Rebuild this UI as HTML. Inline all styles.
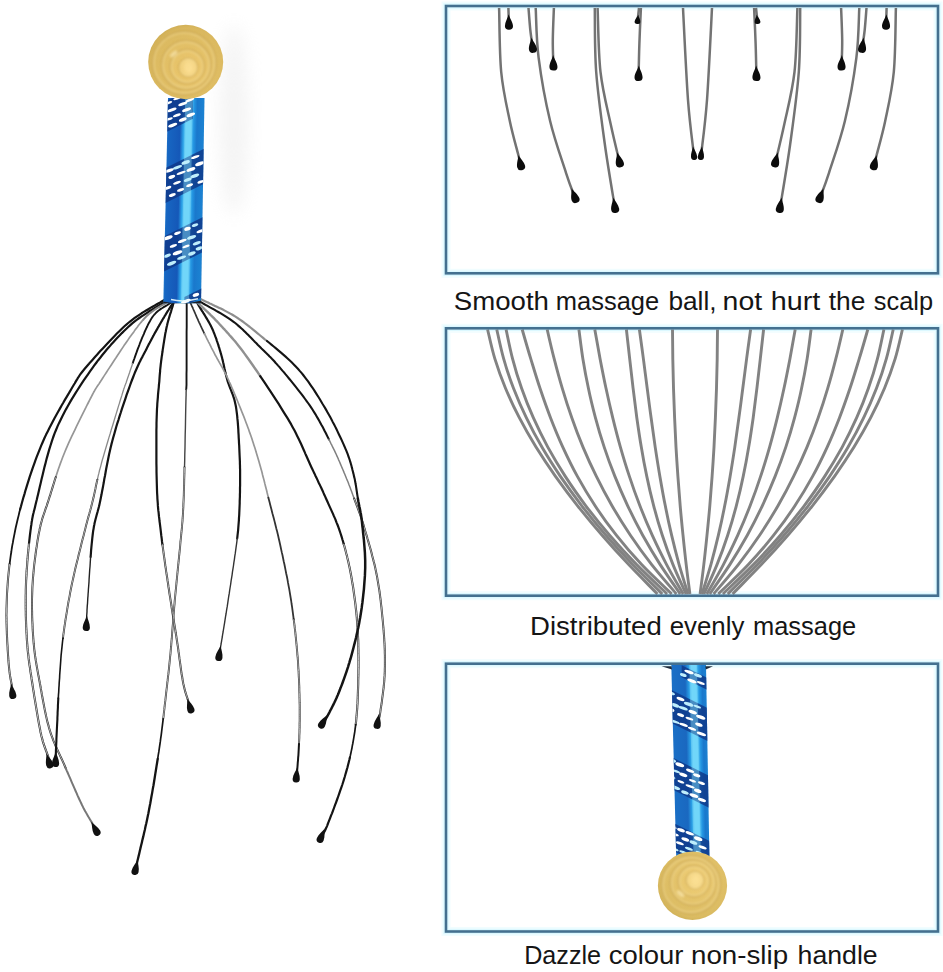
<!DOCTYPE html>
<html><head><meta charset="utf-8"><title>Head massager</title>
<style>
html,body{margin:0;padding:0;background:#fff;}
body{width:943px;height:972px;overflow:hidden;font-family:"Liberation Sans",sans-serif;}
svg{display:block;}
text{font-family:"Liberation Sans",sans-serif;fill:#151515;}
</style></head><body>
<svg width="943" height="972" viewBox="0 0 943 972">
<defs>
<linearGradient id="h1g" x1="0" x2="1" y1="0" y2="0">
<stop offset="0" stop-color="#2b8cd6"/><stop offset="0.07" stop-color="#1766c2"/><stop offset="0.36" stop-color="#1558b8"/>
<stop offset="0.44" stop-color="#2a9fe6"/><stop offset="0.51" stop-color="#62d0f8"/><stop offset="0.62" stop-color="#62d0f8"/><stop offset="0.70" stop-color="#2496e2"/>
<stop offset="0.78" stop-color="#1a78cc"/><stop offset="0.94" stop-color="#1b82d2"/><stop offset="1" stop-color="#1668b8"/>
</linearGradient>
<linearGradient id="h3g" x1="0" x2="1" y1="0" y2="0">
<stop offset="0" stop-color="#2b8cd6"/><stop offset="0.07" stop-color="#1a6fc6"/><stop offset="0.40" stop-color="#1a68c0"/>
<stop offset="0.50" stop-color="#2a9fe6"/><stop offset="0.57" stop-color="#62d0f8"/><stop offset="0.68" stop-color="#62d0f8"/><stop offset="0.76" stop-color="#2496e2"/>
<stop offset="0.84" stop-color="#1a78cc"/><stop offset="0.95" stop-color="#1b82d2"/><stop offset="1" stop-color="#1668b8"/>
</linearGradient>
<radialGradient id="ballg" cx="0.55" cy="0.56" r="0.62" fx="0.56" fy="0.6">
<stop offset="0" stop-color="#f6d27c"/><stop offset="0.25" stop-color="#e9c56c"/><stop offset="0.6" stop-color="#dfbd64"/>
<stop offset="0.85" stop-color="#d9b75e"/><stop offset="1" stop-color="#c9a850"/>
</radialGradient>
<radialGradient id="ballgf" cx="0.55" cy="0.44" r="0.62" fx="0.56" fy="0.4">
<stop offset="0" stop-color="#f6d680"/><stop offset="0.25" stop-color="#ebca72"/><stop offset="0.6" stop-color="#e0c068"/>
<stop offset="0.85" stop-color="#dabb62"/><stop offset="1" stop-color="#caab54"/>
</radialGradient>
<filter id="b1" x="-20%" y="-20%" width="140%" height="140%"><feGaussianBlur stdDeviation="0.8"/></filter>
<filter id="b2" x="-50%" y="-50%" width="200%" height="200%"><feGaussianBlur stdDeviation="2"/></filter>
<filter id="b8" x="-50%" y="-50%" width="200%" height="200%"><feGaussianBlur stdDeviation="9"/></filter>
</defs>
<rect width="943" height="972" fill="#ffffff"/>
<!-- soft shadow -->
<ellipse cx="234" cy="120" rx="14" ry="95" fill="#e6e6e6" opacity="0.45" filter="url(#b8)"/>
<!-- frames halo -->
<rect x="446" y="6.0" width="492" height="267.3" fill="none" stroke="#f1fdff" stroke-width="9"/>
<rect x="446" y="6.0" width="492" height="267.3" fill="none" stroke="#dcf8ff" stroke-width="5.4"/>
<rect x="446" y="328.3" width="492" height="267.4" fill="none" stroke="#f1fdff" stroke-width="9"/>
<rect x="446" y="328.3" width="492" height="267.4" fill="none" stroke="#dcf8ff" stroke-width="5.4"/>
<rect x="446" y="663.7" width="492" height="267.8" fill="none" stroke="#f1fdff" stroke-width="9"/>
<rect x="446" y="663.7" width="492" height="267.8" fill="none" stroke="#dcf8ff" stroke-width="5.4"/>

<!-- left wires -->
<g fill="none" stroke-linecap="round" stroke-linejoin="round">
<path d="M166.7,298.3 L166.7,298.3 L166.7,298.3 L166.8,298.3 L166.9,298.2 L167.1,298.1 L167.2,298.0 L167.3,297.9 L167.4,297.9 L167.5,297.8 L167.5,297.8 L167.5,297.9 L167.3,298.0 L167.1,298.1 L166.7,298.3 L166.2,298.7 L165.6,299.1 L164.8,299.6 L163.8,300.2 L162.6,300.9 L161.3,301.7 L159.8,302.6 L158.2,303.5 L156.4,304.5 L154.5,305.6 L152.5,306.7 L150.4,307.9 L148.3,309.2 L146.1,310.5 L143.8,311.9 L141.5,313.3 L139.3,314.8 L137.0,316.3 L134.7,317.9 L132.5,319.6 L130.3,321.3 L128.2,323.0 L126.1,324.8 L123.9,326.8 L121.6,329.0 L119.3,331.2 L116.9,333.5 L114.6,335.9 L112.2,338.4 L109.8,340.9 L107.4,343.4 L105.1,345.9 L102.8,348.4 L100.5,350.8 L98.3,353.2 L96.3,355.6 L94.3,357.8 L92.4,359.9 L90.6,361.9 L89.0,363.8 L87.5,365.5 L86.2,367.0 L85.1,368.3 L84.1,369.5 L83.1,370.7 L82.3,371.7 L81.5,372.7 L80.8,373.6 L80.1,374.6 L79.5,375.5 L78.8,376.6 L78.1,377.6 L77.4,378.8 L76.6,380.1 L75.7,381.6 L74.8,383.2 L73.7,385.0 L72.5,387.0 L71.2,389.2 L69.8,391.6 L68.3,394.2 L66.7,396.8 L65.0,399.6 L63.4,402.5 L61.6,405.5 L59.9,408.6 L58.1,411.8 L56.3,415.0 L54.5,418.2 L52.8,421.5 L51.1,424.8 L49.4,428.1 L47.7,431.4 L46.1,434.6 L44.6,437.8 L43.2,441.0 L41.8,444.2 L40.5,447.4 L39.2,450.6 L37.9,453.9 L36.6,457.1 L35.4,460.4 L34.2,463.8 L33.0,467.1 L31.9,470.4 L30.7,473.8 L29.6,477.1 L28.6,480.4 L27.5,483.8 L26.5,487.1 L25.5,490.3 L24.6,493.6 L23.6,496.8 L22.7,500.0 L21.8,503.2 L21.0,506.3 L20.1,509.4" stroke="#141414" stroke-width="2.2"/>
<path d="M20.1,509.4 L19.3,512.5 L18.6,515.6 L17.8,518.7 L17.1,521.7 L16.4,524.8 L15.7,527.8 L15.1,530.8 L14.5,533.9 L13.9,536.9 L13.3,539.9 L12.8,542.9 L12.2,545.9 L11.7,549.0 L11.3,552.0 L10.8,555.0 L10.4,558.0 L10.0,561.0 L9.6,564.1" stroke="#141414" stroke-width="1.8"/>
<path d="M9.6,564.1 L9.2,567.1 L8.9,570.1 L8.6,573.1 L8.3,576.1 L8.0,579.1 L7.8,582.1 L7.6,585.1 L7.4,588.0 L7.2,591.0 L7.0,594.0 L6.9,597.0 L6.8,600.0 L6.7,603.0 L6.6,606.0 L6.5,609.0 L6.5,612.0 L6.4,615.2 L6.5,618.3 L6.5,621.6 L6.6,624.8 L6.7,628.1 L6.8,631.3 L6.9,634.6 L7.1,637.8 L7.2,641.0 L7.4,644.1 L7.6,647.1 L7.7,650.1 L7.9,652.9 L8.1,655.7 L8.3,658.3 L8.4,660.7 L8.6,663.0 L8.8,665.1 L9.0,667.2 L9.2,669.1 L9.4,670.9 L9.6,672.6 L9.8,674.2 L10.0,675.7 L10.3,677.2 L10.5,678.5 L10.7,679.8 L11.0,681.0 L11.2,682.2 L11.4,683.3 L11.6,684.3 L11.8,685.3 L11.9,686.2 L12.1,687.1 L12.2,688.0 L12.3,688.8 L12.4,689.5 L12.4,690.1 L12.5,690.6 L12.5,691.1 L12.6,691.5 L12.6,691.8 L12.6,692.1 L12.6,692.3 L12.6,692.5 L12.6,692.7 L12.5,692.8 L12.5,692.9 L12.5,693.0 L12.5,693.1 L12.5,693.2 L12.5,693.4 L12.5,693.5" stroke="#262626" stroke-width="2.0"/>
<path d="M9.6,564.1 L9.2,567.1 L8.9,570.1 L8.6,573.1 L8.3,576.1 L8.0,579.1 L7.8,582.1 L7.6,585.1 L7.4,588.0 L7.2,591.0 L7.0,594.0 L6.9,597.0 L6.8,600.0 L6.7,603.0 L6.6,606.0 L6.5,609.0 L6.5,612.0 L6.4,615.2 L6.5,618.3 L6.5,621.6 L6.6,624.8 L6.7,628.1 L6.8,631.3 L6.9,634.6 L7.1,637.8 L7.2,641.0 L7.4,644.1 L7.6,647.1 L7.7,650.1 L7.9,652.9 L8.1,655.7 L8.3,658.3 L8.4,660.7 L8.6,663.0 L8.8,665.1 L9.0,667.2 L9.2,669.1 L9.4,670.9 L9.6,672.6 L9.8,674.2 L10.0,675.7 L10.3,677.2 L10.5,678.5 L10.7,679.8 L11.0,681.0 L11.2,682.2 L11.4,683.3 L11.6,684.3 L11.8,685.3 L11.9,686.2 L12.1,687.1 L12.2,688.0 L12.3,688.8 L12.4,689.5 L12.4,690.1 L12.5,690.6 L12.5,691.1 L12.6,691.5 L12.6,691.8 L12.6,692.1 L12.6,692.3 L12.6,692.5 L12.6,692.7 L12.5,692.8 L12.5,692.9 L12.5,693.0 L12.5,693.1 L12.5,693.2 L12.5,693.4 L12.5,693.5" stroke="#fff" stroke-opacity="0.9" stroke-width="0.7" stroke-linecap="butt"/>
<path d="M167.3,300.0 L167.2,300.0 L167.3,300.0 L167.4,300.0 L167.5,299.9 L167.6,299.8 L167.8,299.7 L167.9,299.6 L168.0,299.5 L168.1,299.4 L168.1,299.4 L168.1,299.5 L167.9,299.6 L167.7,299.7 L167.3,300.0 L166.8,300.3 L166.2,300.8 L165.4,301.3 L164.4,302.0 L163.2,302.8 L161.9,303.7 L160.3,304.6 L158.6,305.6 L156.8,306.7 L154.9,307.9 L152.8,309.2 L150.7,310.5 L148.5,311.8 L146.3,313.3 L144.0,314.8 L141.6,316.4 L139.3,318.0 L137.0,319.7 L134.7,321.4 L132.5,323.2 L130.3,325.1 L128.2,327.0 L126.1,329.0 L124.0,331.0 L121.9,333.1 L119.8,335.3 L117.6,337.5 L115.5,339.8 L113.3,342.2 L111.1,344.6 L109.0,347.1 L106.8,349.6 L104.6,352.2 L102.5,354.8 L100.4,357.5 L98.2,360.2 L96.1,363.0 L94.1,365.7 L92.0,368.6 L90.0,371.4 L88.0,374.3 L86.0,377.2 L83.9,380.2 L81.9,383.2 L79.8,386.3 L77.8,389.5 L75.8,392.6 L73.8,395.8 L71.8,399.1 L69.9,402.4 L68.0,405.7 L66.1,409.1 L64.3,412.5 L62.5,415.9 L60.8,419.4 L59.1,422.9 L57.5,426.4 L56.0,430.0 L54.5,433.7 L53.1,437.5 L51.8,441.4 L50.5,445.5 L49.2,449.6 L48.0,453.9 L46.8,458.1 L45.7,462.4 L44.6,466.6 L43.6,470.8 L42.6,474.9 L41.6,479.0 L40.7,482.9 L39.8,486.7 L39.0,490.3 L38.2,493.8 L37.4,497.0 L36.7,500.0 L36.0,502.7 L35.4,505.2 L34.9,507.4 L34.4,509.4 L33.9,511.3 L33.5,513.0 L33.1,514.5 L32.8,516.1 L32.5,517.5 L32.2,518.9 L32.0,520.4 L31.7,521.8 L31.5,523.3 L31.3,525.0 L31.0,526.7 L30.8,528.6 L30.5,530.7 L30.2,533.0 L29.9,535.5 L29.6,538.1 L29.3,540.8 L29.0,543.6" stroke="#141414" stroke-width="2.2"/>
<path d="M29.0,543.6 L28.7,546.5 L28.4,549.4 L28.1,552.5 L27.8,555.6 L27.6,558.7 L27.3,561.8 L27.1,565.0 L26.9,568.2 L26.6,571.4 L26.5,574.6 L26.3,577.8 L26.1,580.9 L26.0,584.0 L25.9,587.0 L25.8,590.0 L25.8,593.1 L25.7,596.1 L25.7,599.2 L25.7,602.3 L25.7,605.4 L25.7,608.5 L25.8,611.6 L25.8,614.7 L25.9,617.8 L26.0,620.8 L26.1,623.8 L26.2,626.8 L26.4,629.7 L26.5,632.6 L26.7,635.5 L26.8,638.3 L27.0,641.0 L27.2,643.7 L27.4,646.2 L27.6,648.7 L27.8,651.2 L28.1,653.5 L28.4,655.9 L28.6,658.2 L28.9,660.5 L29.2,662.8 L29.5,665.0 L29.9,667.3 L30.2,669.6 L30.5,671.9 L30.9,674.2 L31.3,676.6 L31.6,679.0 L32.0,681.5 L32.4,684.0 L32.8,686.6 L33.2,689.4 L33.7,692.2 L34.1,695.2 L34.6,698.1 L35.1,701.1 L35.6,704.2 L36.1,707.2 L36.6,710.2 L37.1,713.2 L37.6,716.2 L38.1,719.1 L38.6,721.9 L39.1,724.6 L39.6,727.1 L40.1,729.6 L40.5,731.9 L41.0,734.0 L41.4,736.0 L41.9,737.8 L42.4,739.6 L42.8,741.3 L43.3,742.8 L43.8,744.3 L44.2,745.7 L44.7,747.0 L45.1,748.3 L45.6,749.4 L46.0,750.6 L46.4,751.6 L46.8,752.6 L47.1,753.6 L47.5,754.5 L47.8,755.3 L48.1,756.2 L48.3,757.0 L48.5,757.8 L48.7,758.4 L48.8,759.0 L48.9,759.6 L49.0,760.0 L49.1,760.4 L49.2,760.8 L49.2,761.1 L49.2,761.3 L49.2,761.6 L49.2,761.8 L49.2,761.9 L49.2,762.1 L49.2,762.2 L49.2,762.4 L49.2,762.5 L49.2,762.6 L49.2,762.8" stroke="#262626" stroke-width="2.1"/>
<path d="M29.0,543.6 L28.7,546.5 L28.4,549.4 L28.1,552.5 L27.8,555.6 L27.6,558.7 L27.3,561.8 L27.1,565.0 L26.9,568.2 L26.6,571.4 L26.5,574.6 L26.3,577.8 L26.1,580.9 L26.0,584.0 L25.9,587.0 L25.8,590.0 L25.8,593.1 L25.7,596.1 L25.7,599.2 L25.7,602.3 L25.7,605.4 L25.7,608.5 L25.8,611.6 L25.8,614.7 L25.9,617.8 L26.0,620.8 L26.1,623.8 L26.2,626.8 L26.4,629.7 L26.5,632.6 L26.7,635.5 L26.8,638.3 L27.0,641.0 L27.2,643.7 L27.4,646.2 L27.6,648.7 L27.8,651.2 L28.1,653.5 L28.4,655.9 L28.6,658.2 L28.9,660.5 L29.2,662.8 L29.5,665.0 L29.9,667.3 L30.2,669.6 L30.5,671.9 L30.9,674.2 L31.3,676.6 L31.6,679.0 L32.0,681.5 L32.4,684.0 L32.8,686.6 L33.2,689.4 L33.7,692.2 L34.1,695.2 L34.6,698.1 L35.1,701.1 L35.6,704.2 L36.1,707.2 L36.6,710.2 L37.1,713.2 L37.6,716.2 L38.1,719.1 L38.6,721.9 L39.1,724.6 L39.6,727.1 L40.1,729.6 L40.5,731.9 L41.0,734.0 L41.4,736.0 L41.9,737.8 L42.4,739.6 L42.8,741.3 L43.3,742.8 L43.8,744.3 L44.2,745.7 L44.7,747.0 L45.1,748.3 L45.6,749.4 L46.0,750.6 L46.4,751.6 L46.8,752.6 L47.1,753.6 L47.5,754.5 L47.8,755.3 L48.1,756.2 L48.3,757.0 L48.5,757.8 L48.7,758.4 L48.8,759.0 L48.9,759.6 L49.0,760.0 L49.1,760.4 L49.2,760.8 L49.2,761.1 L49.2,761.3 L49.2,761.6 L49.2,761.8 L49.2,761.9 L49.2,762.1 L49.2,762.2 L49.2,762.4 L49.2,762.5 L49.2,762.6 L49.2,762.8" stroke="#fff" stroke-opacity="0.9" stroke-width="0.8" stroke-linecap="butt"/>
<path d="M169.3,300.8 L169.2,300.8 L169.2,300.8 L169.2,300.8 L169.2,300.8 L169.2,300.8 L169.2,300.9 L169.1,300.9 L169.1,300.9 L169.0,300.9 L169.0,301.0 L168.8,301.1 L168.7,301.2 L168.5,301.3 L168.2,301.5 L167.9,301.7 L167.4,302.0 L167.0,302.3 L166.4,302.7 L165.7,303.1 L165.0,303.6 L164.2,304.1 L163.2,304.6 L162.3,305.2 L161.2,305.7 L160.1,306.4 L159.0,307.0 L157.9,307.7 L156.7,308.4 L155.5,309.2 L154.3,310.0 L153.1,310.8 L151.9,311.7 L150.7,312.6 L149.5,313.5 L148.4,314.5 L147.3,315.5 L146.2,316.5 L145.2,317.6 L144.2,318.7 L143.2,319.8" stroke="#888" stroke-width="2.0"/>
<path d="M143.2,319.8 L142.2,320.9 L141.2,322.1 L140.2,323.3 L139.2,324.5 L138.2,325.8 L137.2,327.2 L136.2,328.5 L135.1,329.9 L134.1,331.4 L133.0,332.9 L131.8,334.5 L130.7,336.1 L129.4,337.8 L128.2,339.6 L126.9,341.5 L125.5,343.5 L124.0,345.6 L122.5,347.9 L120.9,350.3 L119.3,352.7 L117.6,355.2 L116.0,357.7 L114.3,360.2 L112.7,362.7 L111.1,365.2 L109.5,367.6 L108.0,369.9 L106.5,372.2 L105.1,374.4 L103.8,376.4 L102.6,378.3 L101.5,380.0 L100.5,381.5 L99.7,382.8 L99.0,383.9 L98.3,384.8 L97.8,385.6 L97.3,386.3 L96.8,387.0 L96.4,387.6 L96.1,388.1 L95.7,388.8 L95.3,389.4 L94.8,390.2 L94.4,391.0 L93.8,392.0 L93.2,393.2 L92.5,394.5 L91.7,396.1 L90.7,398.0 L89.6,400.1 L88.4,402.5 L87.1,405.0 L85.8,407.7 L84.3,410.6 L82.8,413.6 L81.3,416.7 L79.7,419.9 L78.1,423.1 L76.5,426.4 L74.9,429.8 L73.3,433.1 L71.7,436.4 L70.2,439.7 L68.7,442.9 L67.3,446.1 L66.0,449.1 L64.8,452.0 L63.7,454.8 L62.5,457.7 L61.5,460.5 L60.4,463.4 L59.4,466.2 L58.4,469.0 L57.5,471.8 L56.6,474.6 L55.7,477.3" stroke="#969696" stroke-width="1.7"/>
<path d="M55.7,477.3 L54.8,480.0 L54.0,482.7 L53.2,485.3 L52.4,487.9 L51.6,490.5 L50.8,492.9 L50.1,495.4 L49.3,497.7 L48.6,500.0 L47.9,502.2 L47.2,504.2 L46.6,506.1 L45.9,507.9 L45.3,509.7 L44.8,511.3 L44.2,513.0 L43.7,514.5 L43.1,516.1 L42.6,517.7 L42.1,519.3 L41.7,521.0 L41.2,522.7 L40.7,524.5 L40.3,526.5 L39.8,528.5 L39.4,530.7 L38.9,533.0 L38.4,535.5 L38.0,538.1 L37.5,540.8 L37.1,543.6 L36.7,546.5 L36.2,549.4 L35.8,552.5 L35.4,555.6 L35.0,558.7 L34.6,561.8 L34.2,565.0 L33.9,568.2 L33.6,571.4 L33.3,574.6 L33.0,577.8 L32.8,580.9 L32.6,584.0 L32.4,587.0 L32.3,590.0 L32.2,593.1 L32.1,596.1 L32.0,599.2 L32.0,602.3 L32.0,605.4 L32.0,608.5 L32.1,611.6 L32.1,614.7 L32.2,617.8 L32.3,620.8 L32.5,623.8 L32.6,626.8 L32.7,629.7 L32.9,632.6 L33.1,635.5 L33.3,638.3 L33.5,641.0 L33.7,643.7 L34.0,646.2 L34.2,648.8 L34.5,651.2 L34.8,653.7 L35.1,656.0 L35.5,658.4 L35.8,660.7 L36.2,663.0 L36.6,665.3 L37.0,667.6 L37.4,669.9 L37.8,672.1 L38.2,674.5 L38.7,676.8 L39.1,679.2 L39.6,681.6 L40.0,684.0 L40.5,686.5 L40.9,689.0 L41.4,691.6 L41.8,694.2 L42.3,696.8 L42.8,699.5 L43.3,702.1 L43.8,704.8 L44.3,707.4 L44.8,710.1 L45.4,712.7 L45.9,715.3 L46.5,717.9 L47.1,720.4 L47.7,722.9 L48.4,725.3 L49.0,727.7 L49.7,730.0 L50.4,732.2 L51.1,734.4 L51.9,736.5 L52.7,738.6 L53.4,740.6 L54.3,742.6 L55.1,744.6 L55.9,746.5 L56.8,748.4 L57.6,750.3 L58.5,752.2 L59.4,754.1 L60.3,756.1 L61.2,758.0 L62.1,759.9 L63.0,761.9 L63.9,763.9 L64.8,766.0 L65.7,768.1" stroke="#262626" stroke-width="2.0"/>
<path d="M55.7,477.3 L54.8,480.0 L54.0,482.7 L53.2,485.3 L52.4,487.9 L51.6,490.5 L50.8,492.9 L50.1,495.4 L49.3,497.7 L48.6,500.0 L47.9,502.2 L47.2,504.2 L46.6,506.1 L45.9,507.9 L45.3,509.7 L44.8,511.3 L44.2,513.0 L43.7,514.5 L43.1,516.1 L42.6,517.7 L42.1,519.3 L41.7,521.0 L41.2,522.7 L40.7,524.5 L40.3,526.5 L39.8,528.5 L39.4,530.7 L38.9,533.0 L38.4,535.5 L38.0,538.1 L37.5,540.8 L37.1,543.6 L36.7,546.5 L36.2,549.4 L35.8,552.5 L35.4,555.6 L35.0,558.7 L34.6,561.8 L34.2,565.0 L33.9,568.2 L33.6,571.4 L33.3,574.6 L33.0,577.8 L32.8,580.9 L32.6,584.0 L32.4,587.0 L32.3,590.0 L32.2,593.1 L32.1,596.1 L32.0,599.2 L32.0,602.3 L32.0,605.4 L32.0,608.5 L32.1,611.6 L32.1,614.7 L32.2,617.8 L32.3,620.8 L32.5,623.8 L32.6,626.8 L32.7,629.7 L32.9,632.6 L33.1,635.5 L33.3,638.3 L33.5,641.0 L33.7,643.7 L34.0,646.2 L34.2,648.8 L34.5,651.2 L34.8,653.7 L35.1,656.0 L35.5,658.4 L35.8,660.7 L36.2,663.0 L36.6,665.3 L37.0,667.6 L37.4,669.9 L37.8,672.1 L38.2,674.5 L38.7,676.8 L39.1,679.2 L39.6,681.6 L40.0,684.0 L40.5,686.5 L40.9,689.0 L41.4,691.6 L41.8,694.2 L42.3,696.8 L42.8,699.5 L43.3,702.1 L43.8,704.8 L44.3,707.4 L44.8,710.1 L45.4,712.7 L45.9,715.3 L46.5,717.9 L47.1,720.4 L47.7,722.9 L48.4,725.3 L49.0,727.7 L49.7,730.0 L50.4,732.2 L51.1,734.4 L51.9,736.5 L52.7,738.6 L53.4,740.6 L54.3,742.6 L55.1,744.6 L55.9,746.5 L56.8,748.4 L57.6,750.3 L58.5,752.2 L59.4,754.1 L60.3,756.1 L61.2,758.0 L62.1,759.9 L63.0,761.9 L63.9,763.9 L64.8,766.0 L65.7,768.1" stroke="#fff" stroke-opacity="0.9" stroke-width="0.7" stroke-linecap="butt"/>
<path d="M65.7,768.1 L66.6,770.3 L67.6,772.5 L68.6,774.8 L69.6,777.1 L70.6,779.4 L71.6,781.8 L72.6,784.1 L73.6,786.4 L74.6,788.7 L75.6,791.0 L76.6,793.2 L77.5,795.4 L78.5,797.5 L79.4,799.5 L80.3,801.4 L81.2,803.3 L82.0,805.0 L82.8,806.6 L83.6,808.2 L84.4,809.7 L85.2,811.2 L86.0,812.6 L86.8,813.9 L87.5,815.2 L88.2,816.5 L89.0,817.7 L89.6,818.8 L90.3,819.9 L90.9,820.9 L91.5,821.9 L92.1,822.8 L92.6,823.7 L93.1,824.5 L93.6,825.3 L94.0,826.0 L94.4,826.7 L94.7,827.2 L94.9,827.8 L95.2,828.2 L95.3,828.6 L95.5,828.9 L95.6,829.2 L95.7,829.4 L95.8,829.6 L95.8,829.7 L95.8,829.8 L95.9,829.9 L95.9,830.0 L95.9,830.1 L95.9,830.2 L95.9,830.3 L96.0,830.4 L96.0,830.5" stroke="#777" stroke-width="2.0"/>
<path d="M171.7,301.9 L171.6,301.9 L171.6,302.0 L171.5,302.0 L171.5,302.0 L171.5,302.1 L171.4,302.1 L171.4,302.1 L171.3,302.2 L171.3,302.2 L171.2,302.3 L171.0,302.4 L170.9,302.5 L170.7,302.7 L170.4,302.9 L170.1,303.1 L169.8,303.3 L169.4,303.6 L168.9,304.0 L168.4,304.4 L167.7,304.8 L167.0,305.2 L166.3,305.7 L165.5,306.1 L164.6,306.6 L163.7,307.1 L162.8,307.7 L161.9,308.3 L160.9,308.9 L159.9,309.6 L159.0,310.3 L158.0,311.0 L157.1,311.8 L156.1,312.7 L155.3,313.6 L154.4,314.5 L153.6,315.5 L152.8,316.5 L152.1,317.6 L151.3,318.8 L150.6,319.9 L149.9,321.2 L149.2,322.4 L148.5,323.7 L147.8,325.1 L147.2,326.5 L146.5,327.9 L145.8,329.4 L145.1,330.9 L144.4,332.5 L143.8,334.1 L143.1,335.7 L142.3,337.4 L141.6,339.1 L140.9,340.9 L140.1,342.8 L139.4,344.8 L138.6,346.9 L137.7,349.1 L136.9,351.4 L136.1,353.7 L135.2,356.1 L134.4,358.5 L133.5,360.9 L132.7,363.3" stroke="#141414" stroke-width="1.9"/>
<path d="M132.7,363.3 L131.9,365.7 L131.1,368.0 L130.3,370.3 L129.6,372.5 L128.9,374.5 L128.2,376.5 L127.6,378.3 L127.0,380.0 L126.5,381.5 L126.1,382.7 L125.7,383.7 L125.4,384.5 L125.1,385.2 L124.9,385.8 L124.7,386.4 L124.5,386.9 L124.3,387.4 L124.2,387.9 L123.9,388.6 L123.7,389.3 L123.4,390.2 L123.1,391.2 L122.7,392.5 L122.2,394.1 L121.7,395.9 L121.0,398.0 L120.2,400.5 L119.4,403.3 L118.4,406.4 L117.4,409.8 L116.3,413.4 L115.1,417.2 L113.9,421.2 L112.7,425.2 L111.4,429.3 L110.2,433.5 L108.9,437.6 L107.7,441.7 L106.5,445.7 L105.4,449.5 L104.3,453.2 L103.3,456.7 L102.3,460.0 L101.5,463.0 L100.8,465.8 L100.1,468.4 L99.4,470.8 L98.9,473.2 L98.3,475.4 L97.8,477.6 L97.4,479.6" stroke="#8a8a8a" stroke-width="1.3"/>
<path d="M97.4,479.6 L96.9,481.6 L96.5,483.5 L96.1,485.4 L95.7,487.2 L95.4,489.0 L95.0,490.8 L94.6,492.6 L94.2,494.4 L93.8,496.2 L93.4,498.1 L92.9,500.0 L92.4,501.9 L92.0,503.7 L91.5,505.5 L91.1,507.2 L90.6,508.9 L90.2,510.5 L89.7,512.2 L89.3,513.8 L88.8,515.4 L88.4,517.1 L87.9,518.8 L87.4,520.6 L86.9,522.4 L86.4,524.3 L85.9,526.3 L85.4,528.4 L84.8,530.7 L84.2,533.0 L83.6,535.5 L82.9,538.1 L82.2,540.8 L81.5,543.6 L80.8,546.5 L80.1,549.4 L79.3,552.5 L78.5,555.6 L77.8,558.7 L77.0,561.8 L76.2,565.0 L75.4,568.2 L74.7,571.4 L74.0,574.6 L73.3,577.8 L72.6,580.9 L71.9,584.0 L71.3,587.0 L70.7,590.0 L70.1,593.0 L69.6,596.1 L69.0,599.1 L68.4,602.1 L67.9,605.2 L67.4,608.2 L66.9,611.3 L66.4,614.3 L65.9,617.3 L65.4,620.4 L65.0,623.4 L64.5,626.4 L64.1,629.3 L63.7,632.3 L63.3,635.2 L63.0,638.1" stroke="#262626" stroke-width="1.9"/>
<path d="M97.4,479.6 L96.9,481.6 L96.5,483.5 L96.1,485.4 L95.7,487.2 L95.4,489.0 L95.0,490.8 L94.6,492.6 L94.2,494.4 L93.8,496.2 L93.4,498.1 L92.9,500.0 L92.4,501.9 L92.0,503.7 L91.5,505.5 L91.1,507.2 L90.6,508.9 L90.2,510.5 L89.7,512.2 L89.3,513.8 L88.8,515.4 L88.4,517.1 L87.9,518.8 L87.4,520.6 L86.9,522.4 L86.4,524.3 L85.9,526.3 L85.4,528.4 L84.8,530.7 L84.2,533.0 L83.6,535.5 L82.9,538.1 L82.2,540.8 L81.5,543.6 L80.8,546.5 L80.1,549.4 L79.3,552.5 L78.5,555.6 L77.8,558.7 L77.0,561.8 L76.2,565.0 L75.4,568.2 L74.7,571.4 L74.0,574.6 L73.3,577.8 L72.6,580.9 L71.9,584.0 L71.3,587.0 L70.7,590.0 L70.1,593.0 L69.6,596.1 L69.0,599.1 L68.4,602.1 L67.9,605.2 L67.4,608.2 L66.9,611.3 L66.4,614.3 L65.9,617.3 L65.4,620.4 L65.0,623.4 L64.5,626.4 L64.1,629.3 L63.7,632.3 L63.3,635.2 L63.0,638.1" stroke="#fff" stroke-opacity="0.9" stroke-width="0.7" stroke-linecap="butt"/>
<path d="M63.0,638.1 L62.6,641.0 L62.3,643.9 L62.0,646.8 L61.7,649.6 L61.4,652.5 L61.1,655.4 L60.9,658.3 L60.7,661.2 L60.5,664.0 L60.3,666.8 L60.1,669.6 L59.9,672.3 L59.7,675.0 L59.6,677.7 L59.4,680.3 L59.2,682.8 L59.1,685.3 L58.9,687.7 L58.8,690.0 L58.7,692.2 L58.5,694.4 L58.4,696.4 L58.3,698.4" stroke="#141414" stroke-width="1.6"/>
<path d="M58.3,698.4 L58.2,700.3 L58.1,702.2 L58.0,704.0 L57.9,705.8 L57.9,707.5 L57.8,709.2 L57.7,710.9 L57.6,712.6 L57.6,714.3 L57.5,716.0 L57.4,717.7 L57.4,719.4 L57.3,721.2 L57.2,723.0 L57.1,724.9 L57.0,726.8 L56.9,728.8 L56.8,730.9 L56.7,732.9 L56.6,735.0 L56.5,737.1 L56.4,739.2 L56.4,741.2 L56.3,743.2 L56.2,745.2 L56.1,747.0 L56.0,748.8 L55.9,750.5 L55.9,752.1 L55.8,753.5 L55.7,754.8 L55.7,756.0 L55.7,757.0 L55.6,757.8 L55.6,758.6 L55.6,759.2 L55.6,759.7 L55.6,760.1 L55.6,760.4 L55.6,760.6 L55.6,760.8 L55.6,760.9 L55.6,761.0 L55.6,761.1 L55.6,761.1 L55.6,761.2 L55.6,761.2 L55.6,761.3 L55.6,761.4 L55.6,761.5" stroke="#141414" stroke-width="2.1"/>
<path d="M173.2,302.3 L173.2,302.4 L173.1,302.4 L173.1,302.5 L173.1,302.5 L173.1,302.6 L173.1,302.6 L173.0,302.6 L173.0,302.7 L172.9,302.8 L172.9,302.9 L172.8,303.0 L172.7,303.2 L172.6,303.4 L172.4,303.7 L172.2,304.0 L172.0,304.4 L171.7,304.8 L171.4,305.3 L171.0,305.9 L170.7,306.5 L170.2,307.2 L169.8,307.9 L169.3,308.7 L168.8,309.5 L168.3,310.3 L167.7,311.2 L167.1,312.1 L166.5,313.1 L165.9,314.1 L165.3,315.1 L164.6,316.2 L164.0,317.3 L163.3,318.4 L162.6,319.5 L162.0,320.6 L161.3,321.8 L160.6,323.0 L159.9,324.2 L159.2,325.4 L158.5,326.7 L157.7,328.0 L157.0,329.4 L156.2,330.7 L155.4,332.1 L154.6,333.5 L153.8,335.0 L153.0,336.4 L152.2,337.9 L151.4,339.4 L150.6,341.0 L149.8,342.5 L148.9,344.1 L148.1,345.7 L147.3,347.3 L146.5,348.9 L145.7,350.5 L144.9,352.0 L144.1,353.5 L143.3,355.1 L142.5,356.6 L141.6,358.2 L140.8,359.8 L140.0,361.4 L139.2,363.1 L138.3,364.9 L137.5,366.7 L136.6,368.7 L135.7,370.7 L134.8,372.8 L133.9,375.1 L133.0,377.5 L132.0,380.0 L131.0,382.7 L130.0,385.5 L128.9,388.6 L127.8,391.7 L126.6,394.9 L125.5,398.3 L124.3,401.8 L123.1,405.3 L121.9,408.9 L120.8,412.5 L119.6,416.1 L118.5,419.8 L117.3,423.4 L116.2,427.0 L115.2,430.6 L114.2,434.2 L113.2,437.6 L112.3,441.0 L111.4,444.4 L110.6,447.8 L109.8,451.3 L109.0,454.7 L108.3,458.3 L107.6,461.8 L106.9,465.3 L106.2,468.8 L105.6,472.2 L105.0,475.7 L104.3,479.0 L103.8,482.3 L103.2,485.6 L102.6,488.7 L102.0,491.7 L101.5,494.6 L100.9,497.4 L100.4,500.0 L99.9,502.4 L99.4,504.7 L98.9,506.8 L98.4,508.7 L97.9,510.5 L97.5,512.1 L97.0,513.8 L96.6,515.3 L96.2,516.8 L95.8,518.3 L95.4,519.8 L95.0,521.4 L94.6,523.0 L94.3,524.8 L93.9,526.6 L93.6,528.6 L93.2,530.7 L92.9,533.0 L92.6,535.5 L92.3,538.2 L92.0,541.1 L91.7,544.0 L91.4,547.1 L91.1,550.3 L90.9,553.5 L90.6,556.8" stroke="#141414" stroke-width="2.2"/>
<path d="M90.6,556.8 L90.4,560.1 L90.2,563.4 L90.0,566.7 L89.7,569.9 L89.5,573.1 L89.3,576.1 L89.1,579.1 L89.0,581.9 L88.8,584.5 L88.6,587.0 L88.4,589.3 L88.3,591.6 L88.1,593.8 L88.0,595.9 L87.8,597.9 L87.7,599.9 L87.6,601.8 L87.5,603.6 L87.3,605.4 L87.2,607.1 L87.1,608.7 L87.0,610.3 L87.0,611.7 L86.9,613.1 L86.8,614.5 L86.7,615.7 L86.7,616.9 L86.6,618.0 L86.5,619.0 L86.5,619.9 L86.5,620.7 L86.4,621.4 L86.4,622.0 L86.4,622.5 L86.4,623.0 L86.4,623.4 L86.4,623.7 L86.4,624.0 L86.4,624.2 L86.4,624.4 L86.4,624.6 L86.4,624.8 L86.4,625.0 L86.4,625.1 L86.4,625.3 L86.4,625.5" stroke="#222" stroke-width="1.4"/>
<path d="M173.7,302.5 L173.6,302.6 L173.6,302.7 L173.6,302.7 L173.6,302.7 L173.6,302.7 L173.6,302.7 L173.6,302.7 L173.6,302.8 L173.6,302.8 L173.5,302.9 L173.5,303.1 L173.4,303.3 L173.4,303.5 L173.3,303.8 L173.2,304.2 L173.0,304.7 L172.9,305.2 L172.7,305.9 L172.5,306.7 L172.2,307.5 L171.9,308.4 L171.6,309.4 L171.3,310.5 L171.0,311.6 L170.6,312.8 L170.2,314.0 L169.8,315.3 L169.4,316.6 L169.0,318.0 L168.6,319.4 L168.2,320.8 L167.8,322.2 L167.4,323.7 L167.1,325.2 L166.7,326.7 L166.4,328.2 L166.1,329.7 L165.8,331.4 L165.4,333.1 L165.1,334.9 L164.8,336.7 L164.5,338.5 L164.2,340.4 L163.9,342.3 L163.6,344.2 L163.3,346.2 L163.0,348.1 L162.7,349.9 L162.5,351.8 L162.2,353.5 L162.0,355.3 L161.7,356.9 L161.5,358.5 L161.3,360.0 L161.1,361.4 L161.0,362.6 L160.8,363.8 L160.7,364.9 L160.6,365.9 L160.5,366.8 L160.4,367.7 L160.3,368.6 L160.2,369.5 L160.1,370.4 L160.1,371.3 L160.0,372.3 L159.9,373.3 L159.8,374.4 L159.7,375.6 L159.6,377.0 L159.5,378.4 L159.4,380.0 L159.3,381.7 L159.1,383.4 L158.9,385.2 L158.8,387.0 L158.6,388.8 L158.4,390.7 L158.2,392.7 L158.0,394.8 L157.9,396.9 L157.7,399.1 L157.5,401.3 L157.3,403.7 L157.2,406.2 L157.0,408.7 L156.9,411.4 L156.8,414.1 L156.7,417.0 L156.6,420.0 L156.5,423.2 L156.5,426.6 L156.4,430.2 L156.4,434.1 L156.4,438.0 L156.4,442.1 L156.4,446.3 L156.4,450.5 L156.4,454.8 L156.4,459.1 L156.4,463.4 L156.5,467.6 L156.5,471.7 L156.6,475.7 L156.7,479.5 L156.8,483.2 L156.9,486.7 L157.0,490.0 L157.1,493.0 L157.3,495.9 L157.4,498.6 L157.6,501.2 L157.8,503.6 L157.9,505.9 L158.1,508.2 L158.3,510.4 L158.6,512.5 L158.8,514.6 L159.0,516.7 L159.3,518.9 L159.5,521.0 L159.8,523.2 L160.1,525.5 L160.4,527.9 L160.7,530.4 L161.0,533.0 L161.3,535.7 L161.7,538.5 L162.0,541.4 L162.4,544.3" stroke="#141414" stroke-width="2.2"/>
<path d="M162.4,544.3 L162.8,547.2 L163.2,550.2 L163.6,553.2 L164.0,556.2 L164.5,559.3 L164.9,562.4 L165.3,565.5 L165.8,568.6 L166.2,571.7 L166.7,574.8 L167.2,577.9 L167.6,580.9 L168.1,584.0 L168.5,587.0 L169.0,590.0 L169.4,593.1 L169.9,596.2 L170.4,599.2 L170.9,602.4 L171.4,605.5 L171.8,608.6 L172.3,611.7 L172.8,614.8 L173.3,617.9 L173.8,620.9 L174.3,624.0 L174.8,626.9 L175.3,629.9 L175.7,632.8 L176.2,635.6 L176.6,638.3 L177.0,641.0 L177.4,643.6 L177.8,646.2 L178.2,648.8 L178.5,651.4 L178.9,653.9 L179.2,656.4 L179.5,658.9 L179.9,661.3 L180.2,663.6 L180.5,665.9 L180.8,668.2 L181.1,670.4 L181.4,672.5 L181.7,674.6 L182.1,676.5 L182.4,678.4 L182.7,680.3 L183.0,682.0 L183.3,683.7 L183.7,685.2 L184.0,686.7 L184.3,688.1 L184.7,689.5 L185.0,690.7 L185.3,691.9 L185.7,693.1 L186.0,694.2 L186.3,695.2 L186.7,696.2 L187.0,697.1 L187.3,698.0 L187.5,698.9 L187.8,699.7 L188.1,700.5 L188.3,701.3 L188.5,702.0 L188.7,702.7 L188.9,703.3 L189.0,703.9 L189.2,704.4 L189.3,704.8 L189.4,705.3 L189.6,705.6 L189.7,706.0 L189.7,706.2 L189.8,706.5 L189.9,706.7 L190.0,707.0 L190.0,707.2 L190.1,707.3 L190.1,707.5 L190.2,707.7 L190.2,707.8 L190.3,708.0" stroke="#262626" stroke-width="2.0"/>
<path d="M162.4,544.3 L162.8,547.2 L163.2,550.2 L163.6,553.2 L164.0,556.2 L164.5,559.3 L164.9,562.4 L165.3,565.5 L165.8,568.6 L166.2,571.7 L166.7,574.8 L167.2,577.9 L167.6,580.9 L168.1,584.0 L168.5,587.0 L169.0,590.0 L169.4,593.1 L169.9,596.2 L170.4,599.2 L170.9,602.4 L171.4,605.5 L171.8,608.6 L172.3,611.7 L172.8,614.8 L173.3,617.9 L173.8,620.9 L174.3,624.0 L174.8,626.9 L175.3,629.9 L175.7,632.8 L176.2,635.6 L176.6,638.3 L177.0,641.0 L177.4,643.6 L177.8,646.2 L178.2,648.8 L178.5,651.4 L178.9,653.9 L179.2,656.4 L179.5,658.9 L179.9,661.3 L180.2,663.6 L180.5,665.9 L180.8,668.2 L181.1,670.4 L181.4,672.5 L181.7,674.6 L182.1,676.5 L182.4,678.4 L182.7,680.3 L183.0,682.0 L183.3,683.7 L183.7,685.2 L184.0,686.7 L184.3,688.1 L184.7,689.5 L185.0,690.7 L185.3,691.9 L185.7,693.1 L186.0,694.2 L186.3,695.2 L186.7,696.2 L187.0,697.1 L187.3,698.0 L187.5,698.9 L187.8,699.7 L188.1,700.5 L188.3,701.3 L188.5,702.0 L188.7,702.7 L188.9,703.3 L189.0,703.9 L189.2,704.4 L189.3,704.8 L189.4,705.3 L189.6,705.6 L189.7,706.0 L189.7,706.2 L189.8,706.5 L189.9,706.7 L190.0,707.0 L190.0,707.2 L190.1,707.3 L190.1,707.5 L190.2,707.7 L190.2,707.8 L190.3,708.0" stroke="#fff" stroke-opacity="0.9" stroke-width="0.7" stroke-linecap="butt"/>
<path d="M186.7,302.0 L186.7,302.0 L186.7,301.8 L186.7,301.6 L186.7,301.2 L186.7,300.7 L186.7,300.3 L186.7,299.8 L186.7,299.4 L186.7,299.1 L186.7,298.9 L186.7,298.8 L186.7,298.9 L186.7,299.3 L186.7,299.9 L186.7,300.8 L186.7,302.0 L186.7,303.5 L186.7,305.5 L186.7,308.0 L186.7,311.0 L186.7,314.5 L186.7,318.4 L186.7,322.6 L186.7,327.2 L186.6,331.9 L186.6,336.8 L186.6,341.8 L186.6,346.9 L186.6,351.8 L186.6,356.7 L186.6,361.4 L186.6,365.9 L186.6,370.0 L186.5,373.8 L186.5,377.2 L186.5,380.0 L186.5,382.3 L186.5,384.0 L186.5,385.3 L186.4,386.2 L186.4,386.8 L186.4,387.1 L186.4,387.2 L186.4,387.3 L186.4,387.3 L186.4,387.3 L186.3,387.5 L186.3,387.9 L186.3,388.5 L186.2,389.4" stroke="#141414" stroke-width="1.9"/>
<path d="M186.2,389.4 L186.2,390.8 L186.1,392.6 L186.1,395.0 L186.0,398.0 L185.9,401.7 L185.8,406.0 L185.7,410.8 L185.6,416.1 L185.5,421.9 L185.4,427.9 L185.2,434.2 L185.1,440.8 L185.0,447.4 L184.8,454.0 L184.7,460.7 L184.5,467.2" stroke="#444" stroke-width="1.4"/>
<path d="M184.5,467.2 L184.4,473.5 L184.2,479.6 L184.1,485.4 L183.9,490.8 L183.8,495.6 L183.6,500.0 L183.4,503.9 L183.3,507.4 L183.1,510.6 L183.0,513.5 L182.8,516.1 L182.6,518.6 L182.5,520.9 L182.3,523.0 L182.1,525.0 L182.0,526.9 L181.8,528.8 L181.6,530.7 L181.4,532.7 L181.2,534.7 L181.0,536.8 L180.8,539.0 L180.5,541.4 L180.3,544.0 L180.1,546.8 L179.8,549.6 L179.5,552.4 L179.2,555.3 L178.9,558.3 L178.6,561.3 L178.3,564.3 L178.0,567.3 L177.7,570.4 L177.4,573.5 L177.1,576.5 L176.8,579.6 L176.5,582.7 L176.2,585.8 L175.9,588.9 L175.6,591.9 L175.3,595.0 L175.0,598.0 L174.7,601.0 L174.5,604.1 L174.2,607.2 L174.0,610.3 L173.7,613.4 L173.5,616.6 L173.2,619.7 L173.0,622.9 L172.7,626.0 L172.5,629.1 L172.2,632.2 L172.0,635.2 L171.8,638.2 L171.5,641.1 L171.3,643.9 L171.1,646.7 L170.8,649.4 L170.6,652.0 L170.4,654.5 L170.1,656.8 L169.9,659.1 L169.7,661.2 L169.5,663.2 L169.3,665.2 L169.1,667.2 L168.9,669.1 L168.7,670.9 L168.5,672.8 L168.3,674.7 L168.0,676.7 L167.8,678.7 L167.6,680.7 L167.3,682.9 L167.1,685.1 L166.8,687.5 L166.5,690.0 L166.2,692.6 L165.9,695.3 L165.6,698.1 L165.3,700.9 L164.9,703.8 L164.6,706.7 L164.3,709.7 L163.9,712.7 L163.6,715.8 L163.2,718.9" stroke="#262626" stroke-width="1.9"/>
<path d="M184.5,467.2 L184.4,473.5 L184.2,479.6 L184.1,485.4 L183.9,490.8 L183.8,495.6 L183.6,500.0 L183.4,503.9 L183.3,507.4 L183.1,510.6 L183.0,513.5 L182.8,516.1 L182.6,518.6 L182.5,520.9 L182.3,523.0 L182.1,525.0 L182.0,526.9 L181.8,528.8 L181.6,530.7 L181.4,532.7 L181.2,534.7 L181.0,536.8 L180.8,539.0 L180.5,541.4 L180.3,544.0 L180.1,546.8 L179.8,549.6 L179.5,552.4 L179.2,555.3 L178.9,558.3 L178.6,561.3 L178.3,564.3 L178.0,567.3 L177.7,570.4 L177.4,573.5 L177.1,576.5 L176.8,579.6 L176.5,582.7 L176.2,585.8 L175.9,588.9 L175.6,591.9 L175.3,595.0 L175.0,598.0 L174.7,601.0 L174.5,604.1 L174.2,607.2 L174.0,610.3 L173.7,613.4 L173.5,616.6 L173.2,619.7 L173.0,622.9 L172.7,626.0 L172.5,629.1 L172.2,632.2 L172.0,635.2 L171.8,638.2 L171.5,641.1 L171.3,643.9 L171.1,646.7 L170.8,649.4 L170.6,652.0 L170.4,654.5 L170.1,656.8 L169.9,659.1 L169.7,661.2 L169.5,663.2 L169.3,665.2 L169.1,667.2 L168.9,669.1 L168.7,670.9 L168.5,672.8 L168.3,674.7 L168.0,676.7 L167.8,678.7 L167.6,680.7 L167.3,682.9 L167.1,685.1 L166.8,687.5 L166.5,690.0 L166.2,692.6 L165.9,695.3 L165.6,698.1 L165.3,700.9 L164.9,703.8 L164.6,706.7 L164.3,709.7 L163.9,712.7 L163.6,715.8 L163.2,718.9" stroke="#fff" stroke-opacity="0.9" stroke-width="0.7" stroke-linecap="butt"/>
<path d="M163.2,718.9 L162.8,722.1 L162.4,725.3 L162.0,728.5 L161.6,731.8 L161.2,735.1 L160.7,738.4 L160.3,741.7 L159.8,745.0 L159.3,748.4 L158.8,751.9 L158.2,755.4 L157.7,759.0" stroke="#141414" stroke-width="1.7"/>
<path d="M157.7,759.0 L157.1,762.7 L156.5,766.4 L155.9,770.2 L155.3,773.9 L154.7,777.7 L154.1,781.5 L153.5,785.2 L152.8,788.9 L152.2,792.6 L151.5,796.2 L150.9,799.8 L150.3,803.3 L149.6,806.7 L149.0,810.0 L148.4,813.3 L147.7,816.6 L147.0,819.9 L146.3,823.3 L145.5,826.6 L144.8,829.9 L144.0,833.2 L143.3,836.4 L142.5,839.6 L141.8,842.7 L141.1,845.6 L140.4,848.4 L139.8,851.1 L139.2,853.7 L138.6,856.1 L138.1,858.2 L137.6,860.2 L137.2,862.0 L136.9,863.5 L136.6,864.8 L136.3,865.9 L136.1,866.8 L135.9,867.5 L135.8,868.1 L135.7,868.5 L135.7,868.8 L135.6,869.0 L135.6,869.1 L135.6,869.2 L135.6,869.2 L135.6,869.2 L135.6,869.2 L135.6,869.2 L135.6,869.2 L135.5,869.3 L135.5,869.5" stroke="#141414" stroke-width="2.3"/>
<path d="M197.5,303.5 L197.6,303.5 L197.6,303.6 L197.6,303.6 L197.6,303.6 L197.6,303.6 L197.6,303.6 L197.6,303.6 L197.6,303.6 L197.6,303.6 L197.7,303.7 L197.7,303.8 L197.8,304.0 L198.0,304.2 L198.1,304.5 L198.4,304.9 L198.6,305.3 L198.9,305.9 L199.3,306.5 L199.7,307.2 L200.3,308.1 L200.8,309.0 L201.5,310.0 L202.1,311.1 L202.9,312.2 L203.6,313.4 L204.4,314.7 L205.2,316.0 L206.0,317.3 L206.8,318.6 L207.6,320.0 L208.4,321.4 L209.2,322.8 L210.0,324.2 L210.7,325.5 L211.4,326.9 L212.0,328.2 L212.6,329.5 L213.2,330.9 L213.7,332.2 L214.3,333.6 L214.8,335.0 L215.3,336.4 L215.9,337.8 L216.4,339.2 L216.8,340.6 L217.3,342.0 L217.8,343.5 L218.3,344.9 L218.7,346.4 L219.2,347.8 L219.6,349.3 L220.0,350.7 L220.5,352.2 L220.9,353.6 L221.3,355.0 L221.7,356.5 L222.1,357.9 L222.4,359.4 L222.8,360.8 L223.1,362.3 L223.5,363.8 L223.8,365.2 L224.1,366.7 L224.4,368.2 L224.8,369.6 L225.1,371.1 L225.4,372.6 L225.8,374.1 L226.1,375.6 L226.5,377.0 L226.9,378.5 L227.3,380.0 L227.7,381.5 L228.2,382.9 L228.7,384.2 L229.2,385.6 L229.7,386.9 L230.2,388.3 L230.8,389.6 L231.3,390.9 L231.8,392.3 L232.4,393.7 L232.9,395.1 L233.4,396.6 L233.9,398.1 L234.4,399.7 L234.8,401.4 L235.2,403.2 L235.6,405.0 L236.0,407.0 L236.3,409.1 L236.6,411.3 L236.9,413.7 L237.2,416.1 L237.4,418.7 L237.7,421.3 L237.9,423.9 L238.1,426.6 L238.3,429.4 L238.4,432.1 L238.6,434.9 L238.7,437.6 L238.9,440.3 L239.0,443.0 L239.2,445.6 L239.3,448.2 L239.4,450.6 L239.5,453.0 L239.6,455.3 L239.7,457.5 L239.8,459.6 L239.9,461.7 L239.9,463.8 L240.0,465.8 L240.0,467.8 L240.1,469.7 L240.1,471.7 L240.1,473.6 L240.1,475.6 L240.1,477.6 L240.1,479.5 L240.1,481.5 L240.1,483.6 L240.1,485.7 L240.0,487.8 L240.0,490.0 L240.0,492.2 L239.9,494.5 L239.9,496.7 L239.8,498.9 L239.7,501.2 L239.7,503.5 L239.6,505.8 L239.5,508.1 L239.4,510.4 L239.3,512.8 L239.2,515.2 L239.0,517.6 L238.9,520.1 L238.7,522.6 L238.5,525.1 L238.3,527.7 L238.1,530.3 L237.8,533.0 L237.5,535.7 L237.2,538.5" stroke="#141414" stroke-width="2.2"/>
<path d="M237.2,538.5 L236.9,541.4 L236.5,544.3 L236.1,547.2 L235.7,550.2 L235.3,553.2 L234.8,556.2 L234.4,559.3 L233.9,562.4 L233.5,565.5 L233.0,568.6 L232.5,571.7 L232.1,574.8 L231.6,577.9 L231.1,580.9 L230.7,584.0 L230.2,587.0 L229.7,590.1 L229.3,593.2 L228.7,596.5 L228.2,599.9 L227.7,603.3 L227.2,606.7 L226.6,610.1 L226.1,613.5 L225.5,616.8 L225.0,620.1 L224.5,623.3 L224.0,626.3 L223.5,629.3 L223.1,632.0 L222.6,634.6 L222.3,637.0 L221.9,639.1 L221.6,641.0 L221.3,642.6 L221.1,644.0 L220.9,645.1 L220.7,646.1 L220.6,646.9 L220.5,647.5 L220.4,647.9 L220.3,648.3 L220.3,648.5 L220.2,648.7 L220.2,648.8 L220.1,648.9 L220.1,649.0 L220.1,649.1 L220.0,649.2 L220.0,649.4 L220.0,649.7 L219.9,650.0 L219.8,650.4 L219.8,650.8 L219.7,651.2 L219.7,651.6 L219.6,651.9 L219.6,652.3 L219.5,652.6 L219.5,653.0 L219.4,653.3 L219.4,653.6 L219.4,653.9 L219.3,654.2 L219.3,654.5 L219.3,654.7 L219.3,654.9 L219.2,655.1 L219.2,655.3 L219.2,655.5" stroke="#333" stroke-width="1.4"/>
<path d="M190.2,302.1 L190.2,302.2 L190.2,302.2 L190.2,302.2 L190.2,302.2 L190.2,302.2 L190.2,302.2 L190.2,302.2 L190.2,302.2 L190.3,302.3 L190.3,302.4 L190.3,302.5 L190.4,302.7 L190.5,302.9 L190.7,303.2 L190.8,303.6 L191.0,304.1 L191.3,304.6 L191.6,305.3 L191.9,306.1 L192.3,307.0 L192.8,307.9 L193.2,309.0 L193.7,310.2 L194.3,311.4 L194.8,312.7 L195.4,314.0 L196.0,315.4 L196.6,316.8 L197.2,318.2 L197.9,319.7 L198.5,321.1 L199.2,322.6 L199.9,324.0 L200.5,325.4 L201.2,326.8 L201.8,328.2 L202.4,329.5 L203.1,330.9 L203.8,332.3 L204.4,333.7" stroke="#333" stroke-width="1.7"/>
<path d="M204.4,333.7 L205.1,335.0 L205.8,336.4 L206.5,337.9 L207.2,339.3 L207.9,340.7 L208.6,342.1 L209.4,343.5 L210.1,345.0 L210.8,346.4 L211.5,347.8 L212.3,349.3 L213.0,350.7 L213.8,352.2 L214.5,353.6 L215.2,355.0 L216.0,356.4 L216.7,357.7 L217.4,359.0 L218.2,360.3 L218.9,361.6 L219.6,362.9 L220.4,364.2 L221.1,365.6 L221.9,366.9 L222.7,368.3 L223.5,369.8 L224.2,371.3 L225.1,372.9 L225.9,374.5 L226.7,376.2 L227.6,378.1 L228.5,380.0 L229.4,382.1 L230.4,384.2 L231.4,386.5 L232.4,388.9 L233.5,391.4 L234.6,394.0 L235.7,396.6 L236.8,399.3 L237.9,402.0 L239.0,404.7 L240.1,407.4 L241.2,410.1 L242.2,412.7 L243.3,415.3 L244.3,417.9 L245.2,420.3 L246.1,422.7 L247.0,425.0 L247.8,427.2 L248.6,429.3 L249.3,431.4 L250.0,433.4 L250.7,435.3 L251.4,437.2 L252.0,439.1 L252.6,441.0 L253.2,442.8 L253.8,444.7 L254.4,446.5 L255.0,448.3 L255.6,450.2 L256.1,452.1 L256.7,454.0 L257.3,455.9 L257.9,457.9 L258.5,460.0 L259.1,462.1 L259.7,464.2 L260.3,466.3 L260.9,468.5 L261.5,470.6 L262.1,472.8 L262.6,475.0 L263.2,477.2 L263.8,479.4 L264.4,481.7 L264.9,483.9 L265.5,486.2 L266.1,488.5 L266.7,490.7 L267.2,493.0 L267.8,495.4 L268.4,497.7" stroke="#969696" stroke-width="1.7"/>
<path d="M268.4,497.7 L269.0,500.0 L269.6,502.3 L270.2,504.7 L270.8,507.0 L271.4,509.3 L272.0,511.7 L272.6,514.0 L273.3,516.4 L273.9,518.7 L274.5,521.1 L275.1,523.5 L275.7,526.0 L276.3,528.4 L277.0,530.9 L277.6,533.5 L278.2,536.0 L278.8,538.7 L279.4,541.3 L280.0,544.0 L280.6,546.8 L281.2,549.6 L281.8,552.4 L282.5,555.3 L283.1,558.3 L283.7,561.3 L284.4,564.3 L285.0,567.3 L285.6,570.4 L286.2,573.5 L286.9,576.5 L287.5,579.6 L288.0,582.7 L288.6,585.8 L289.2,588.9 L289.7,591.9 L290.2,595.0 L290.7,598.0 L291.2,601.0 L291.6,604.0 L292.1,607.1 L292.5,610.1 L292.9,613.2 L293.3,616.2 L293.7,619.3" stroke="#333" stroke-width="1.8"/>
<path d="M293.7,619.3 L294.1,622.3 L294.5,625.4 L294.8,628.4 L295.2,631.4 L295.5,634.4 L295.8,637.4 L296.1,640.4 L296.4,643.3 L296.7,646.3 L296.9,649.1 L297.2,652.0 L297.4,654.8 L297.7,657.6 L297.9,660.4 L298.1,663.2 L298.2,666.0 L298.4,668.7 L298.6,671.5 L298.7,674.2 L298.8,676.9 L299.0,679.5 L299.1,682.2 L299.2,684.8 L299.3,687.4 L299.3,690.0 L299.4,692.5 L299.5,695.1 L299.5,697.5 L299.6,700.0 L299.6,702.4 L299.7,704.9 L299.7,707.2 L299.7,709.6 L299.7,712.0 L299.7,714.3 L299.7,716.6 L299.7,718.9 L299.7,721.1 L299.6,723.3 L299.6,725.5 L299.6,727.7 L299.5,729.8 L299.5,731.9 L299.4,734.0 L299.3,736.0 L299.3,738.0 L299.2,740.0 L299.1,741.9 L299.0,743.9" stroke="#262626" stroke-width="1.9"/>
<path d="M293.7,619.3 L294.1,622.3 L294.5,625.4 L294.8,628.4 L295.2,631.4 L295.5,634.4 L295.8,637.4 L296.1,640.4 L296.4,643.3 L296.7,646.3 L296.9,649.1 L297.2,652.0 L297.4,654.8 L297.7,657.6 L297.9,660.4 L298.1,663.2 L298.2,666.0 L298.4,668.7 L298.6,671.5 L298.7,674.2 L298.8,676.9 L299.0,679.5 L299.1,682.2 L299.2,684.8 L299.3,687.4 L299.3,690.0 L299.4,692.5 L299.5,695.1 L299.5,697.5 L299.6,700.0 L299.6,702.4 L299.7,704.9 L299.7,707.2 L299.7,709.6 L299.7,712.0 L299.7,714.3 L299.7,716.6 L299.7,718.9 L299.7,721.1 L299.6,723.3 L299.6,725.5 L299.6,727.7 L299.5,729.8 L299.5,731.9 L299.4,734.0 L299.3,736.0 L299.3,738.0 L299.2,740.0 L299.1,741.9 L299.0,743.9" stroke="#fff" stroke-opacity="0.9" stroke-width="0.7" stroke-linecap="butt"/>
<path d="M299.0,743.9 L298.9,745.8 L298.8,747.8 L298.7,749.7 L298.6,751.6 L298.5,753.5 L298.4,755.3 L298.2,757.1 L298.1,758.8 L298.0,760.5 L297.8,762.1 L297.7,763.6 L297.6,765.1 L297.5,766.4 L297.4,767.7 L297.3,768.9 L297.2,770.0 L297.1,771.0 L297.1,771.8 L297.0,772.6 L296.9,773.2 L296.9,773.8 L296.8,774.3 L296.8,774.7 L296.7,775.1 L296.7,775.4 L296.6,775.6 L296.6,775.8 L296.6,776.0 L296.5,776.2 L296.5,776.4 L296.5,776.5 L296.4,776.7 L296.4,776.8 L296.4,777.0" stroke="#141414" stroke-width="2.0"/>
<path d="M198.0,302.8 L198.1,302.9 L198.1,302.9 L198.1,302.9 L198.1,302.9 L198.0,302.8 L198.0,302.8 L198.0,302.8 L198.0,302.8 L198.0,302.8 L198.0,302.8 L198.1,302.9 L198.3,303.1 L198.4,303.3 L198.7,303.5 L199.0,303.8 L199.4,304.2 L199.9,304.7 L200.5,305.3 L201.2,306.0 L202.0,306.7 L202.8,307.5 L203.7,308.4 L204.7,309.4 L205.8,310.4 L206.9,311.4 L208.1,312.5 L209.3,313.7 L210.5,314.9 L211.8,316.1 L213.1,317.4 L214.4,318.7 L215.7,320.1 L217.0,321.4 L218.3,322.8 L219.6,324.2 L220.9,325.6 L222.2,327.0 L223.4,328.4 L224.7,329.7 L225.9,331.0 L227.1,332.4 L228.4,333.8 L229.6,335.2 L230.9,336.6 L232.2,338.1 L233.6,339.7 L235.0,341.3 L236.4,343.1 L237.9,344.9 L239.5,346.9 L241.1,349.0 L242.8,351.2 L244.5,353.6 L246.4,356.2 L248.4,359.0 L250.5,362.0 L252.8,365.3 L255.2,368.7 L257.7,372.3 L260.2,376.1" stroke="#909090" stroke-width="2.4"/>
<path d="M260.2,376.1 L262.8,379.9 L265.5,383.9 L268.1,387.8 L270.8,391.9 L273.4,395.9 L276.0,399.8 L278.5,403.7 L280.9,407.6 L283.2,411.3 L285.4,414.8 L287.5,418.2 L289.4,421.4 L291.2,424.4 L292.8,427.4 L294.4,430.3 L295.8,433.1 L297.2,435.9 L298.5,438.6 L299.8,441.2 L301.0,443.8 L302.1,446.3 L303.2,448.8 L304.3,451.2 L305.3,453.6 L306.4,456.0 L307.4,458.3 L308.4,460.5 L309.4,462.8 L310.4,465.0 L311.4,467.2 L312.4,469.3 L313.4,471.4 L314.4,473.4 L315.3,475.4 L316.2,477.2 L317.1,479.1 L317.9,480.9 L318.7,482.7 L319.6,484.4 L320.4,486.1 L321.2,487.8 L322.0,489.5 L322.8,491.2 L323.5,492.9 L324.3,494.7 L325.1,496.4 L325.9,498.2 L326.7,500.0 L327.5,501.8 L328.3,503.6 L329.1,505.4 L329.9,507.1 L330.7,508.9 L331.5,510.6 L332.3,512.4 L333.1,514.1 L333.8,515.9 L334.6,517.6 L335.4,519.4 L336.1,521.3 L336.8,523.1 L337.6,525.0 L338.3,526.9 L339.0,528.9 L339.7,530.9 L340.4,533.0 L341.1,535.1 L341.8,537.3 L342.4,539.5 L343.1,541.7 L343.7,543.9" stroke="#141414" stroke-width="2.2"/>
<path d="M343.7,543.9 L344.4,546.2 L345.0,548.5 L345.6,550.8 L346.2,553.2 L346.9,555.6 L347.4,558.0 L348.0,560.5 L348.6,563.0 L349.1,565.5 L349.7,568.1 L350.2,570.7 L350.7,573.3 L351.2,576.0 L351.7,578.7 L352.1,581.5 L352.6,584.3 L353.1,587.1 L353.5,590.0 L353.9,593.0 L354.3,595.9 L354.7,598.9 L355.1,601.9 L355.5,605.0 L355.8,608.1 L356.2,611.1 L356.5,614.3 L356.8,617.4 L357.0,620.5 L357.3,623.7 L357.5,626.8 L357.7,630.0 L357.9,633.2 L358.0,636.5 L358.2,639.8 L358.3,643.2 L358.3,646.7 L358.4,650.1 L358.4,653.6 L358.5,657.1 L358.5,660.6 L358.5,664.1 L358.5,667.6 L358.4,671.0 L358.4,674.3 L358.3,677.6 L358.2,680.9 L358.2,684.0 L358.1,687.1 L358.0,690.0 L357.9,692.8 L357.8,695.6 L357.7,698.3 L357.6,700.9 L357.5,703.4 L357.3,705.9 L357.2,708.3 L357.0,710.7 L356.8,713.1 L356.6,715.4 L356.4,717.7 L356.2,720.0 L356.0,722.3 L355.7,724.6" stroke="#262626" stroke-width="2.1"/>
<path d="M343.7,543.9 L344.4,546.2 L345.0,548.5 L345.6,550.8 L346.2,553.2 L346.9,555.6 L347.4,558.0 L348.0,560.5 L348.6,563.0 L349.1,565.5 L349.7,568.1 L350.2,570.7 L350.7,573.3 L351.2,576.0 L351.7,578.7 L352.1,581.5 L352.6,584.3 L353.1,587.1 L353.5,590.0 L353.9,593.0 L354.3,595.9 L354.7,598.9 L355.1,601.9 L355.5,605.0 L355.8,608.1 L356.2,611.1 L356.5,614.3 L356.8,617.4 L357.0,620.5 L357.3,623.7 L357.5,626.8 L357.7,630.0 L357.9,633.2 L358.0,636.5 L358.2,639.8 L358.3,643.2 L358.3,646.7 L358.4,650.1 L358.4,653.6 L358.5,657.1 L358.5,660.6 L358.5,664.1 L358.5,667.6 L358.4,671.0 L358.4,674.3 L358.3,677.6 L358.2,680.9 L358.2,684.0 L358.1,687.1 L358.0,690.0 L357.9,692.8 L357.8,695.6 L357.7,698.3 L357.6,700.9 L357.5,703.4 L357.3,705.9 L357.2,708.3 L357.0,710.7 L356.8,713.1 L356.6,715.4 L356.4,717.7 L356.2,720.0 L356.0,722.3 L355.7,724.6" stroke="#fff" stroke-opacity="0.9" stroke-width="0.8" stroke-linecap="butt"/>
<path d="M355.7,724.6 L355.4,726.9 L355.1,729.2 L354.8,731.6 L354.4,734.0 L354.0,736.4 L353.6,738.8 L353.2,741.2 L352.8,743.5 L352.3,745.9 L351.9,748.3 L351.4,750.6 L350.9,753.0 L350.4,755.3 L349.8,757.7" stroke="#141414" stroke-width="1.7"/>
<path d="M349.8,757.7 L349.3,760.0 L348.7,762.4 L348.1,764.8 L347.5,767.2 L346.8,769.6 L346.1,772.1 L345.4,774.5 L344.7,777.0 L343.9,779.6 L343.1,782.2 L342.2,785.0 L341.2,787.8 L340.2,790.7 L339.2,793.6 L338.2,796.5 L337.1,799.5 L336.1,802.3 L335.0,805.2 L334.0,808.0 L333.0,810.7 L332.0,813.3 L331.0,815.7 L330.1,818.1 L329.3,820.2 L328.5,822.2 L327.8,824.0 L327.2,825.6 L326.6,827.0 L326.0,828.3 L325.5,829.5 L325.0,830.6 L324.5,831.5 L324.1,832.3 L323.7,833.0 L323.3,833.7 L323.0,834.3 L322.7,834.8 L322.4,835.2 L322.1,835.7 L321.9,836.1 L321.6,836.4 L321.4,836.8 L321.2,837.1 L321.0,837.5" stroke="#141414" stroke-width="2.2"/>
<path d="M198.8,300.9 L198.8,300.9 L198.8,300.9 L198.8,300.9 L198.7,300.8 L198.6,300.8 L198.5,300.7 L198.4,300.7 L198.3,300.6 L198.3,300.6 L198.3,300.6 L198.4,300.7 L198.6,300.8 L198.8,300.9 L199.1,301.1 L199.6,301.4 L200.2,301.7 L200.9,302.2 L201.8,302.7 L202.9,303.3 L204.1,304.0 L205.5,304.8 L207.1,305.7 L208.7,306.6 L210.5,307.6 L212.4,308.6 L214.3,309.7 L216.3,310.9 L218.3,312.0 L220.4,313.2 L222.4,314.4 L224.4,315.6 L226.4,316.9 L228.3,318.1 L230.2,319.4 L231.9,320.6 L233.6,321.8 L235.2,323.0 L236.7,324.3 L238.2,325.6 L239.7,326.9 L241.2,328.2 L242.7,329.5 L244.1,330.9 L245.5,332.3 L246.9,333.7 L248.3,335.1 L249.7,336.5 L251.0,337.8 L252.4,339.2 L253.7,340.6 L255.0,342.0 L256.4,343.3 L257.7,344.7 L259.0,346.0 L260.3,347.3 L261.5,348.5 L262.8,349.7 L263.9,350.8 L265.1,352.0 L266.2,353.1 L267.4,354.2 L268.5,355.3 L269.6,356.5 L270.8,357.6 L271.9,358.8 L273.1,360.0 L274.3,361.3 L275.5,362.7 L276.8,364.1 L278.1,365.6 L279.5,367.1 L280.9,368.8 L282.4,370.6 L284.0,372.4 L285.6,374.4 L287.3,376.4 L289.0,378.5 L290.8,380.7 L292.6,382.9 L294.4,385.2 L296.2,387.4 L298.1,389.8 L299.9,392.1 L301.7,394.4 L303.4,396.7 L305.1,399.0 L306.8,401.3 L308.4,403.5 L309.9,405.7 L311.4,407.9 L312.8,410.0 L314.1,412.2 L315.5,414.3 L316.7,416.4 L318.0,418.6 L319.2,420.7 L320.4,422.9 L321.5,425.0 L322.7,427.1 L323.8,429.2 L324.8,431.3 L325.9,433.3 L326.9,435.4 L327.9,437.4 L328.9,439.4" stroke="#141414" stroke-width="2.1"/>
<path d="M328.9,439.4 L329.9,441.4 L330.8,443.3 L331.8,445.2 L332.7,447.1 L333.6,448.9 L334.5,450.7 L335.4,452.6 L336.2,454.3 L337.0,456.1 L337.8,457.8 L338.5,459.6 L339.3,461.3 L340.0,462.9 L340.7,464.6 L341.4,466.2 L342.1,467.9 L342.8,469.5 L343.5,471.1 L344.1,472.6 L344.8,474.2 L345.4,475.7 L346.0,477.2 L346.6,478.7 L347.2,480.1 L347.8,481.5 L348.3,482.8 L348.8,484.2 L349.3,485.5 L349.8,486.8 L350.3,488.1 L350.8,489.4 L351.3,490.7 L351.8,492.0 L352.2,493.2 L352.7,494.6 L353.2,495.9 L353.7,497.2 L354.2,498.6" stroke="#808080" stroke-width="1.5"/>
<path d="M354.2,498.6 L354.7,500.0 L355.2,501.4 L355.7,502.7 L356.2,504.0 L356.7,505.3 L357.2,506.6 L357.7,507.9 L358.1,509.1 L358.6,510.4 L359.1,511.8 L359.6,513.1 L360.1,514.5 L360.6,516.0 L361.1,517.6 L361.7,519.2 L362.2,520.9 L362.8,522.7 L363.4,524.6 L364.0,526.7 L364.6,528.9 L365.3,531.2 L366.0,533.6 L366.8,536.1 L367.5,538.7 L368.3,541.4 L369.1,544.2 L369.9,547.0 L370.7,549.8 L371.5,552.8 L372.2,555.7 L373.0,558.7 L373.7,561.6 L374.5,564.6 L375.2,567.6 L375.8,570.6 L376.4,573.5 L377.0,576.4 L377.5,579.3 L378.0,582.3 L378.5,585.3 L379.0,588.3 L379.5,591.4 L379.9,594.5 L380.3,597.6 L380.7,600.7 L381.0,603.8 L381.4,606.9 L381.7,610.0 L382.0,613.0 L382.3,616.1 L382.6,619.0 L382.9,622.0 L383.1,624.9 L383.4,627.7 L383.6,630.4 L383.8,633.1 L384.0,635.7 L384.2,638.3 L384.3,640.8 L384.5,643.3 L384.6,645.8 L384.7,648.2 L384.8,650.6 L384.8,653.0 L384.9,655.3 L384.9,657.6 L384.9,660.0 L384.9,662.2 L384.9,664.5 L384.9,666.8 L384.8,669.1 L384.8,671.3 L384.7,673.6 L384.6,675.9 L384.4,678.2 L384.3,680.6 L384.1,683.0 L383.8,685.4 L383.6,687.8 L383.3,690.1 L383.0,692.5 L382.7,694.8 L382.4,697.1 L382.1,699.3 L381.9,701.4 L381.6,703.4 L381.3,705.4 L381.0,707.2 L380.7,708.9 L380.5,710.5 L380.3,712.0 L380.1,713.3 L379.9,714.5 L379.7,715.6 L379.5,716.5 L379.3,717.4 L379.1,718.2 L379.0,718.9 L378.8,719.5 L378.6,720.1 L378.5,720.5 L378.3,721.0 L378.2,721.4 L378.0,721.7 L377.9,722.1 L377.8,722.4 L377.7,722.7 L377.6,723.0 L377.5,723.3" stroke="#262626" stroke-width="2.0"/>
<path d="M354.2,498.6 L354.7,500.0 L355.2,501.4 L355.7,502.7 L356.2,504.0 L356.7,505.3 L357.2,506.6 L357.7,507.9 L358.1,509.1 L358.6,510.4 L359.1,511.8 L359.6,513.1 L360.1,514.5 L360.6,516.0 L361.1,517.6 L361.7,519.2 L362.2,520.9 L362.8,522.7 L363.4,524.6 L364.0,526.7 L364.6,528.9 L365.3,531.2 L366.0,533.6 L366.8,536.1 L367.5,538.7 L368.3,541.4 L369.1,544.2 L369.9,547.0 L370.7,549.8 L371.5,552.8 L372.2,555.7 L373.0,558.7 L373.7,561.6 L374.5,564.6 L375.2,567.6 L375.8,570.6 L376.4,573.5 L377.0,576.4 L377.5,579.3 L378.0,582.3 L378.5,585.3 L379.0,588.3 L379.5,591.4 L379.9,594.5 L380.3,597.6 L380.7,600.7 L381.0,603.8 L381.4,606.9 L381.7,610.0 L382.0,613.0 L382.3,616.1 L382.6,619.0 L382.9,622.0 L383.1,624.9 L383.4,627.7 L383.6,630.4 L383.8,633.1 L384.0,635.7 L384.2,638.3 L384.3,640.8 L384.5,643.3 L384.6,645.8 L384.7,648.2 L384.8,650.6 L384.8,653.0 L384.9,655.3 L384.9,657.6 L384.9,660.0 L384.9,662.2 L384.9,664.5 L384.9,666.8 L384.8,669.1 L384.8,671.3 L384.7,673.6 L384.6,675.9 L384.4,678.2 L384.3,680.6 L384.1,683.0 L383.8,685.4 L383.6,687.8 L383.3,690.1 L383.0,692.5 L382.7,694.8 L382.4,697.1 L382.1,699.3 L381.9,701.4 L381.6,703.4 L381.3,705.4 L381.0,707.2 L380.7,708.9 L380.5,710.5 L380.3,712.0 L380.1,713.3 L379.9,714.5 L379.7,715.6 L379.5,716.5 L379.3,717.4 L379.1,718.2 L379.0,718.9 L378.8,719.5 L378.6,720.1 L378.5,720.5 L378.3,721.0 L378.2,721.4 L378.0,721.7 L377.9,722.1 L377.8,722.4 L377.7,722.7 L377.6,723.0 L377.5,723.3" stroke="#fff" stroke-opacity="0.9" stroke-width="0.7" stroke-linecap="butt"/>
<path d="M199.9,298.6 L199.9,298.7 L199.9,298.7 L199.9,298.6 L199.8,298.6 L199.7,298.6 L199.7,298.5 L199.6,298.5 L199.5,298.5 L199.5,298.5 L199.6,298.5 L199.6,298.5 L199.8,298.6 L200.1,298.7 L200.4,298.9 L200.9,299.1 L201.4,299.4 L202.1,299.8 L203.0,300.2 L204.0,300.7 L205.2,301.3 L206.6,301.9 L208.1,302.6 L209.7,303.4 L211.4,304.1 L213.1,305.0 L215.0,305.9 L216.9,306.8 L218.8,307.7 L220.8,308.6 L222.8,309.6 L224.7,310.6 L226.6,311.6 L228.5,312.6 L230.3,313.6 L232.0,314.5 L233.6,315.5 L235.1,316.4 L236.6,317.4 L238.0,318.3 L239.3,319.2 L240.7,320.1 L242.0,321.0 L243.2,321.9 L244.5,322.9 L245.8,323.8 L247.1,324.8 L248.4,325.8 L249.7,326.9 L251.1,328.0 L252.5,329.2 L254.0,330.4 L255.6,331.7 L257.3,333.1 L259.0,334.5 L260.8,336.0 L262.8,337.6 L264.8,339.3 L267.0,341.0" stroke="#8e8e8e" stroke-width="2.2"/>
<path d="M267.0,341.0 L269.2,342.8 L271.4,344.6 L273.7,346.5 L276.0,348.4 L278.3,350.4 L280.7,352.4 L283.0,354.4 L285.3,356.4 L287.6,358.5 L289.8,360.6 L291.9,362.6 L294.0,364.7 L296.0,366.8 L297.9,368.8 L299.7,370.9 L301.5,372.9 L303.2,375.0 L304.8,377.1 L306.5,379.3 L308.1,381.4 L309.6,383.6 L311.1,385.8 L312.6,387.9 L314.1,390.1 L315.5,392.4 L316.9,394.6 L318.3,396.8 L319.7,399.0 L321.0,401.2 L322.3,403.5 L323.7,405.7 L325.0,407.9 L326.3,410.1 L327.6,412.4 L328.9,414.7 L330.2,417.1 L331.5,419.5 L332.7,421.9 L334.0,424.2 L335.2,426.6 L336.4,429.0 L337.5,431.4 L338.6,433.7 L339.7,436.0 L340.8,438.2 L341.8,440.4 L342.8,442.6 L343.7,444.7 L344.6,446.7 L345.4,448.6 L346.2,450.4 L346.9,452.2 L347.6,453.9 L348.2,455.6 L348.7,457.2 L349.3,458.7 L349.8,460.3 L350.2,461.7 L350.7,463.2 L351.1,464.6 L351.5,466.0 L351.8,467.4 L352.2,468.8 L352.5,470.1 L352.9,471.5 L353.2,472.9 L353.6,474.3 L353.9,475.7 L354.2,477.1 L354.6,478.5 L354.9,479.9 L355.1,481.3 L355.4,482.7 L355.6,484.1 L355.9,485.4 L356.1,486.8 L356.3,488.1 L356.5,489.5 L356.7,490.8 L356.9,492.1 L357.1,493.5 L357.3,494.8 L357.5,496.1 L357.7,497.4 L357.9,498.7" stroke="#141414" stroke-width="2.1"/>
<path d="M357.9,498.7 L358.1,500.0 L358.3,501.3 L358.6,502.5 L358.8,503.6 L359.0,504.7 L359.2,505.8 L359.4,506.8 L359.7,507.9 L359.9,508.9 L360.1,510.0 L360.3,511.1 L360.5,512.3 L360.8,513.5 L361.0,514.7 L361.2,516.1 L361.4,517.5 L361.6,519.0 L361.8,520.6 L362.0,522.4 L362.2,524.3 L362.4,526.3 L362.7,528.3 L362.9,530.5 L363.1,532.8 L363.4,535.1 L363.6,537.5 L363.9,539.9 L364.1,542.4 L364.3,545.0 L364.5,547.5 L364.7,550.1 L364.9,552.7 L365.0,555.3 L365.1,557.9 L365.2,560.5 L365.2,563.1 L365.2,565.6 L365.2,568.1 L365.1,570.7 L365.0,573.3 L364.9,575.9 L364.7,578.6 L364.5,581.2 L364.3,583.9 L364.1,586.6 L363.9,589.3 L363.6,592.0 L363.3,594.7 L363.0,597.3 L362.7,600.0 L362.4,602.7 L362.0,605.3 L361.7,607.9 L361.3,610.5 L360.9,613.0 L360.5,615.5 L360.1,618.0 L359.6,620.5 L359.2,623.0 L358.7,625.5 L358.2,628.0 L357.6,630.5 L357.1,632.9 L356.5,635.4 L356.0,637.8 L355.4,640.2 L354.8,642.6 L354.2,644.9 L353.6,647.3 L353.0,649.6 L352.4,651.8 L351.8,654.1 L351.2,656.3 L350.6,658.5 L349.9,660.7 L349.3,662.8 L348.6,665.0 L348.0,667.1 L347.3,669.2 L346.6,671.3 L345.9,673.4 L345.2,675.4 L344.5,677.4 L343.8,679.4 L343.1,681.3 L342.4,683.2 L341.7,685.1 L341.0,686.9 L340.3,688.6 L339.7,690.3 L339.0,692.0 L338.4,693.6 L337.7,695.2 L337.0,696.7 L336.4,698.2 L335.7,699.7 L335.0,701.2 L334.4,702.5 L333.7,703.9 L333.1,705.2 L332.4,706.5 L331.8,707.7 L331.2,708.9 L330.6,710.0 L330.0,711.1 L329.5,712.2 L329.0,713.2 L328.5,714.1 L328.0,715.0 L327.6,715.8 L327.1,716.6 L326.7,717.3 L326.3,718.0 L325.9,718.6 L325.6,719.2 L325.2,719.7 L324.9,720.2 L324.6,720.6 L324.3,721.0 L324.0,721.4 L323.8,721.7 L323.6,722.0 L323.3,722.3 L323.1,722.6 L322.9,722.8 L322.8,723.1 L322.6,723.3" stroke="#141414" stroke-width="2.5"/>
</g>
<path d="M0,-10 C0.7,-6.5 3.6,-2.2 3.6,2 A3.6,3.6 0 1 1 -3.6,2 C-3.6,-2.2 -0.7,-6.5 0,-10Z" fill="#111" transform="translate(12.5,693.5) rotate(-7.9) scale(1.00)"/>
<path d="M0,-10 C0.7,-6.5 3.6,-2.2 3.6,2 A3.6,3.6 0 1 1 -3.6,2 C-3.6,-2.2 -0.7,-6.5 0,-10Z" fill="#111" transform="translate(49.2,762.8) rotate(-16.2) scale(1.00)"/>
<path d="M0,-10 C0.7,-6.5 3.6,-2.2 3.6,2 A3.6,3.6 0 1 1 -3.6,2 C-3.6,-2.2 -0.7,-6.5 0,-10Z" fill="#111" transform="translate(96.0,830.5) rotate(-29.1) scale(1.00)"/>
<path d="M0,-10 C0.7,-6.5 3.6,-2.2 3.6,2 A3.6,3.6 0 1 1 -3.6,2 C-3.6,-2.2 -0.7,-6.5 0,-10Z" fill="#111" transform="translate(55.6,761.5) rotate(2.2) scale(1.00)"/>
<path d="M0,-10 C0.7,-6.5 3.6,-2.2 3.6,2 A3.6,3.6 0 1 1 -3.6,2 C-3.6,-2.2 -0.7,-6.5 0,-10Z" fill="#111" transform="translate(86.4,625.5) rotate(2.8) scale(1.00)"/>
<path d="M0,-10 C0.7,-6.5 3.6,-2.2 3.6,2 A3.6,3.6 0 1 1 -3.6,2 C-3.6,-2.2 -0.7,-6.5 0,-10Z" fill="#111" transform="translate(190.3,708.0) rotate(-17.2) scale(1.00)"/>
<path d="M0,-10 C0.7,-6.5 3.6,-2.2 3.6,2 A3.6,3.6 0 1 1 -3.6,2 C-3.6,-2.2 -0.7,-6.5 0,-10Z" fill="#111" transform="translate(135.5,869.5) rotate(13.2) scale(1.00)"/>
<path d="M0,-10 C0.7,-6.5 3.6,-2.2 3.6,2 A3.6,3.6 0 1 1 -3.6,2 C-3.6,-2.2 -0.7,-6.5 0,-10Z" fill="#111" transform="translate(219.2,655.5) rotate(8.9) scale(1.00)"/>
<path d="M0,-10 C0.7,-6.5 3.6,-2.2 3.6,2 A3.6,3.6 0 1 1 -3.6,2 C-3.6,-2.2 -0.7,-6.5 0,-10Z" fill="#111" transform="translate(296.4,777.0) rotate(5.1) scale(1.00)"/>
<path d="M0,-10 C0.7,-6.5 3.6,-2.2 3.6,2 A3.6,3.6 0 1 1 -3.6,2 C-3.6,-2.2 -0.7,-6.5 0,-10Z" fill="#111" transform="translate(321.0,837.5) rotate(22.8) scale(1.00)"/>
<path d="M0,-10 C0.7,-6.5 3.6,-2.2 3.6,2 A3.6,3.6 0 1 1 -3.6,2 C-3.6,-2.2 -0.7,-6.5 0,-10Z" fill="#111" transform="translate(377.5,723.3) rotate(9.9) scale(1.00)"/>
<path d="M0,-10 C0.7,-6.5 3.6,-2.2 3.6,2 A3.6,3.6 0 1 1 -3.6,2 C-3.6,-2.2 -0.7,-6.5 0,-10Z" fill="#111" transform="translate(322.6,723.3) rotate(29.6) scale(1.00)"/>
<!-- left handle -->
<clipPath id="h1c"><polygon points="168.0,98.0 204.5,98.0 201.0,303.2 163.3,303.2"/></clipPath>
<g clip-path="url(#h1c)">
<g transform="translate(0.00,0) skewX(0.000) translate(0.00,0)">
<rect x="166.0" y="96.0" width="40.5" height="209.2" fill="url(#h1g)" transform="translate(0.00,98.00) skewX(-1.145) translate(0.00,-98.00)"/>
</g>
<polygon points="162.3,103.1 192.8,87.8 192.8,118.8 162.3,134.1" fill="#0f3788" opacity="0.82"/>
<polygon points="162.3,169.7 205.5,148.1 205.5,183.1 162.3,204.7" fill="#0f3788" opacity="0.82"/>
<polygon points="162.3,237.4 205.5,215.8 205.5,250.8 162.3,272.4" fill="#0f3788" opacity="0.82"/>
<polygon points="184.4,297.0 205.5,286.5 205.5,295.5 184.4,306.0" fill="#0f3788" opacity="0.82"/>
<polygon points="185.2,98.0 192.8,98.0 188.9,303.2 181.0,303.2" fill="#86defb" opacity="0.42"/>
<ellipse cx="168.0" cy="103.1" rx="4.4" ry="1.2" fill="#ffffff" transform="rotate(-20 168.0 103.1)"/>
<ellipse cx="177.3" cy="98.3" rx="4.2" ry="1.2" fill="#ffffff" transform="rotate(-20 177.3 98.3)"/>
<ellipse cx="185.7" cy="93.8" rx="4.1" ry="1.7" fill="#ffffff" transform="rotate(-20 185.7 93.8)"/>
<ellipse cx="171.9" cy="109.9" rx="4.9" ry="1.5" fill="#ffffff" transform="rotate(-20 171.9 109.9)"/>
<ellipse cx="182.8" cy="103.9" rx="4.8" ry="1.4" fill="#ffffff" transform="rotate(-20 182.8 103.9)"/>
<ellipse cx="189.9" cy="100.0" rx="4.7" ry="1.3" fill="#ffffff" transform="rotate(-20 189.9 100.0)"/>
<ellipse cx="168.8" cy="119.1" rx="4.3" ry="1.2" fill="#ffffff" transform="rotate(-20 168.8 119.1)"/>
<ellipse cx="176.9" cy="115.3" rx="4.1" ry="1.4" fill="#ffffff" transform="rotate(-20 176.9 115.3)"/>
<ellipse cx="186.6" cy="109.8" rx="4.7" ry="1.6" fill="#ffffff" transform="rotate(-20 186.6 109.8)"/>
<ellipse cx="172.7" cy="125.2" rx="4.8" ry="1.6" fill="#ffffff" transform="rotate(-20 172.7 125.2)"/>
<ellipse cx="182.8" cy="119.6" rx="4.1" ry="1.7" fill="#ffffff" transform="rotate(-20 182.8 119.6)"/>
<ellipse cx="190.8" cy="114.9" rx="4.5" ry="1.7" fill="#ffffff" transform="rotate(-20 190.8 114.9)"/>
<ellipse cx="169.4" cy="170.5" rx="4.5" ry="1.6" fill="#ffffff" transform="rotate(-20 169.4 170.5)"/>
<ellipse cx="177.5" cy="167.3" rx="4.9" ry="1.5" fill="#bfeefc" transform="rotate(-20 177.5 167.3)"/>
<ellipse cx="185.7" cy="162.4" rx="4.4" ry="1.8" fill="#bfeefc" transform="rotate(-20 185.7 162.4)"/>
<ellipse cx="195.3" cy="157.0" rx="4.5" ry="1.2" fill="#ffffff" transform="rotate(-20 195.3 157.0)"/>
<ellipse cx="171.8" cy="176.8" rx="3.5" ry="1.7" fill="#ffffff" transform="rotate(-20 171.8 176.8)"/>
<ellipse cx="181.1" cy="172.9" rx="4.8" ry="1.2" fill="#ffffff" transform="rotate(-20 181.1 172.9)"/>
<ellipse cx="190.9" cy="169.5" rx="4.7" ry="1.7" fill="#ffffff" transform="rotate(-20 190.9 169.5)"/>
<ellipse cx="199.7" cy="163.7" rx="4.8" ry="1.8" fill="#ffffff" transform="rotate(-20 199.7 163.7)"/>
<ellipse cx="167.7" cy="187.9" rx="3.8" ry="1.5" fill="#ffffff" transform="rotate(-20 167.7 187.9)"/>
<ellipse cx="177.0" cy="182.7" rx="4.1" ry="1.4" fill="#ffffff" transform="rotate(-20 177.0 182.7)"/>
<ellipse cx="187.8" cy="179.8" rx="4.2" ry="1.6" fill="#bfeefc" transform="rotate(-20 187.8 179.8)"/>
<ellipse cx="194.8" cy="175.8" rx="4.6" ry="1.7" fill="#bfeefc" transform="rotate(-20 194.8 175.8)"/>
<ellipse cx="172.3" cy="195.0" rx="3.6" ry="1.6" fill="#ffffff" transform="rotate(-20 172.3 195.0)"/>
<ellipse cx="180.6" cy="189.9" rx="3.7" ry="1.4" fill="#ffffff" transform="rotate(-20 180.6 189.9)"/>
<ellipse cx="189.6" cy="185.2" rx="3.6" ry="1.4" fill="#ffffff" transform="rotate(-20 189.6 185.2)"/>
<ellipse cx="200.8" cy="181.8" rx="3.6" ry="1.4" fill="#ffffff" transform="rotate(-20 200.8 181.8)"/>
<ellipse cx="168.1" cy="237.8" rx="4.8" ry="1.8" fill="#ffffff" transform="rotate(-20 168.1 237.8)"/>
<ellipse cx="177.5" cy="233.1" rx="3.6" ry="1.4" fill="#ffffff" transform="rotate(-20 177.5 233.1)"/>
<ellipse cx="187.5" cy="228.8" rx="3.4" ry="1.8" fill="#ffffff" transform="rotate(-20 187.5 228.8)"/>
<ellipse cx="195.0" cy="225.1" rx="3.4" ry="1.5" fill="#bfeefc" transform="rotate(-20 195.0 225.1)"/>
<ellipse cx="173.4" cy="245.9" rx="3.8" ry="1.4" fill="#ffffff" transform="rotate(-20 173.4 245.9)"/>
<ellipse cx="182.3" cy="240.9" rx="4.6" ry="1.4" fill="#ffffff" transform="rotate(-20 182.3 240.9)"/>
<ellipse cx="191.6" cy="237.4" rx="4.8" ry="1.7" fill="#bfeefc" transform="rotate(-20 191.6 237.4)"/>
<ellipse cx="200.5" cy="231.1" rx="4.2" ry="1.4" fill="#ffffff" transform="rotate(-20 200.5 231.1)"/>
<ellipse cx="167.3" cy="255.7" rx="3.8" ry="1.6" fill="#bfeefc" transform="rotate(-20 167.3 255.7)"/>
<ellipse cx="177.5" cy="252.7" rx="5.0" ry="1.8" fill="#ffffff" transform="rotate(-20 177.5 252.7)"/>
<ellipse cx="186.0" cy="246.4" rx="3.7" ry="1.3" fill="#ffffff" transform="rotate(-20 186.0 246.4)"/>
<ellipse cx="196.8" cy="243.3" rx="4.2" ry="1.6" fill="#bfeefc" transform="rotate(-20 196.8 243.3)"/>
<ellipse cx="171.6" cy="263.3" rx="4.9" ry="1.7" fill="#bfeefc" transform="rotate(-20 171.6 263.3)"/>
<ellipse cx="181.6" cy="257.6" rx="4.7" ry="1.4" fill="#bfeefc" transform="rotate(-20 181.6 257.6)"/>
<ellipse cx="191.9" cy="253.5" rx="4.0" ry="1.8" fill="#bfeefc" transform="rotate(-20 191.9 253.5)"/>
<ellipse cx="199.1" cy="248.3" rx="3.6" ry="1.7" fill="#bfeefc" transform="rotate(-20 199.1 248.3)"/>
<ellipse cx="185.9" cy="301.2" rx="5.0" ry="1.6" fill="#ffffff" transform="rotate(-20 185.9 301.2)"/>
<ellipse cx="195.9" cy="294.9" rx="3.4" ry="1.8" fill="#ffffff" transform="rotate(-20 195.9 294.9)"/>
<path d="M171,299.6 Q184,302.6 198,298.8" stroke="#e8fbff" stroke-width="1.5" fill="none" opacity="0.9"/><path d="M163,301.5 Q183,305.8 201.5,300.6 L201.5,304 L163,304Z" fill="#1d1d22"/>
</g>
<ellipse cx="185.7" cy="62.0" rx="37.5" ry="37.2" fill="url(#ballg)"/>
<clipPath id="b1clip"><ellipse cx="185.7" cy="62.0" rx="37.5" ry="37.2"/></clipPath>
<g fill="none" filter="url(#b1)" clip-path="url(#b1clip)">
<ellipse cx="188.2" cy="67.5" rx="9.6" ry="9.6" stroke="#b8913c" stroke-opacity="0.42" stroke-width="1.5"/>
<ellipse cx="188.2" cy="67.5" rx="7.9" ry="7.9" stroke="#f6df97" stroke-opacity="0.55" stroke-width="1.6"/>
<ellipse cx="187.2" cy="66.5" rx="17.2" ry="17.1" stroke="#b8913c" stroke-opacity="0.42" stroke-width="1.5"/>
<ellipse cx="187.2" cy="66.5" rx="15.5" ry="15.4" stroke="#f6df97" stroke-opacity="0.55" stroke-width="1.6"/>
<ellipse cx="186.2" cy="65.0" rx="24.8" ry="24.6" stroke="#b8913c" stroke-opacity="0.42" stroke-width="1.5"/>
<ellipse cx="186.2" cy="65.0" rx="23.1" ry="22.9" stroke="#f6df97" stroke-opacity="0.55" stroke-width="1.6"/>
<ellipse cx="184.2" cy="63.0" rx="31.9" ry="31.7" stroke="#b8913c" stroke-opacity="0.42" stroke-width="1.5"/>
<ellipse cx="184.2" cy="63.0" rx="30.2" ry="30.0" stroke="#f6df97" stroke-opacity="0.55" stroke-width="1.6"/>
</g>
<ellipse cx="188.7" cy="67.0" rx="6.5" ry="8" fill="#ffe6a0" opacity="0.6" filter="url(#b2)"/>
<ellipse cx="173.7" cy="54.0" rx="4.5" ry="2.2" fill="#fff0c0" opacity="0.55" filter="url(#b1)" transform="rotate(-40 173.7 54.0)"/>
<!-- panel 1 -->
<g fill="none" stroke="#737373" stroke-width="2.5" stroke-linecap="butt">
<path d="M499.1,8.0 C499.5,18.7 499.4,53.2 501.2,72.0 C503.0,90.8 506.9,107.0 509.8,121.0 C512.7,135.0 516.8,148.7 518.6,156.0 C520.4,163.3 520.4,163.2 520.7,164.7"/>
<path d="M508.4,8.0 C508.5,10.7 508.8,21.5 508.9,24.2"/>
<path d="M528.5,8.0 C528.8,11.7 529.6,23.4 530.3,30.0 C531.0,36.5 532.3,44.4 532.7,47.3"/>
<path d="M535.7,8.0 C536.2,16.3 536.2,38.8 538.6,57.6 C541.0,76.4 545.5,101.8 550.1,121.0 C554.7,140.2 561.9,160.0 566.0,172.8 C570.1,185.6 573.4,193.5 574.9,197.6"/>
<path d="M553.9,8.0 C553.7,13.3 552.9,30.5 552.8,40.0 C552.7,49.5 553.3,60.8 553.4,65.0"/>
<path d="M594.8,8.0 C595.0,18.7 594.5,49.3 596.2,72.0 C597.9,94.7 601.7,121.4 604.8,144.0 C607.9,166.6 613.2,196.8 614.9,207.4"/>
<path d="M597.6,8.0 C598.1,18.7 598.3,52.7 600.5,72.0 C602.7,91.3 607.4,108.8 610.6,123.8 C613.8,138.8 618.0,155.6 619.5,161.9"/>
<path d="M639.0,8.0 C638.8,10.1 637.8,18.6 637.6,20.7"/>
<path d="M640.9,8.0 C640.6,13.9 639.8,32.0 639.4,43.2 C639.0,54.5 638.7,70.1 638.6,75.5"/>
<path d="M683.0,8.0 C683.8,23.3 686.2,75.5 688.0,100.0 C689.8,124.5 692.9,145.8 693.9,155.0"/>
<path d="M895.9,8.0 C895.5,18.7 895.6,53.2 893.8,72.0 C892.0,90.8 888.1,107.0 885.2,121.0 C882.3,135.0 878.2,148.7 876.4,156.0 C874.6,163.3 874.6,163.2 874.3,164.7"/>
<path d="M886.6,8.0 C886.5,10.7 886.2,21.5 886.1,24.2"/>
<path d="M866.5,8.0 C866.2,11.7 865.4,23.4 864.7,30.0 C864.0,36.5 862.7,44.4 862.3,47.3"/>
<path d="M859.3,8.0 C858.8,16.3 858.8,38.8 856.4,57.6 C854.0,76.4 849.5,101.8 844.9,121.0 C840.3,140.2 833.1,160.0 829.0,172.8 C824.9,185.6 821.6,193.5 820.1,197.6"/>
<path d="M841.1,8.0 C841.3,13.3 842.1,30.5 842.2,40.0 C842.3,49.5 841.7,60.8 841.6,65.0"/>
<path d="M800.2,8.0 C800.0,18.7 800.5,49.3 798.8,72.0 C797.1,94.7 793.3,121.4 790.2,144.0 C787.1,166.6 781.8,196.8 780.1,207.4"/>
<path d="M797.4,8.0 C796.9,18.7 796.7,52.7 794.5,72.0 C792.3,91.3 787.6,108.8 784.4,123.8 C781.2,138.8 777.0,155.6 775.5,161.9"/>
<path d="M756.0,8.0 C756.2,10.1 757.2,18.6 757.4,20.7"/>
<path d="M754.1,8.0 C754.4,13.9 755.2,32.0 755.6,43.2 C756.0,54.5 756.3,70.1 756.4,75.5"/>
<path d="M712.0,8.0 C711.2,23.3 708.8,75.5 707.0,100.0 C705.2,124.5 702.1,145.8 701.1,155.0"/>
</g>
<path d="M0,-10 C0.7,-6.5 3.6,-2.2 3.6,2 A3.6,3.6 0 1 1 -3.6,2 C-3.6,-2.2 -0.7,-6.5 0,-10Z" fill="#0c0c0c" transform="translate(520.7,164.7) rotate(-13.6) scale(1.12,1.00)"/>
<path d="M0,-10 C0.7,-6.5 3.6,-2.2 3.6,2 A3.6,3.6 0 1 1 -3.6,2 C-3.6,-2.2 -0.7,-6.5 0,-10Z" fill="#0c0c0c" transform="translate(508.9,24.2) rotate(-1.8) scale(1.12,1.00)"/>
<path d="M0,-10 C0.7,-6.5 3.6,-2.2 3.6,2 A3.6,3.6 0 1 1 -3.6,2 C-3.6,-2.2 -0.7,-6.5 0,-10Z" fill="#0c0c0c" transform="translate(532.7,47.3) rotate(-7.9) scale(1.12,1.00)"/>
<path d="M0,-10 C0.7,-6.5 3.6,-2.2 3.6,2 A3.6,3.6 0 1 1 -3.6,2 C-3.6,-2.2 -0.7,-6.5 0,-10Z" fill="#0c0c0c" transform="translate(574.9,197.6) rotate(-19.7) scale(1.12,1.00)"/>
<path d="M0,-10 C0.7,-6.5 3.6,-2.2 3.6,2 A3.6,3.6 0 1 1 -3.6,2 C-3.6,-2.2 -0.7,-6.5 0,-10Z" fill="#0c0c0c" transform="translate(553.4,65.0) rotate(-1.4) scale(1.12,1.00)"/>
<path d="M0,-10 C0.7,-6.5 3.6,-2.2 3.6,2 A3.6,3.6 0 1 1 -3.6,2 C-3.6,-2.2 -0.7,-6.5 0,-10Z" fill="#0c0c0c" transform="translate(614.9,207.4) rotate(-9.1) scale(1.12,1.00)"/>
<path d="M0,-10 C0.7,-6.5 3.6,-2.2 3.6,2 A3.6,3.6 0 1 1 -3.6,2 C-3.6,-2.2 -0.7,-6.5 0,-10Z" fill="#0c0c0c" transform="translate(619.5,161.9) rotate(-13.1) scale(1.12,1.00)"/>
<path d="M0,-10 C0.7,-6.5 3.6,-2.2 3.6,2 A3.6,3.6 0 1 1 -3.6,2 C-3.6,-2.2 -0.7,-6.5 0,-10Z" fill="#0c0c0c" transform="translate(637.6,20.7) rotate(6.3) scale(0.80,0.60)"/>
<path d="M0,-10 C0.7,-6.5 3.6,-2.2 3.6,2 A3.6,3.6 0 1 1 -3.6,2 C-3.6,-2.2 -0.7,-6.5 0,-10Z" fill="#0c0c0c" transform="translate(638.6,75.5) rotate(1.4) scale(1.12,1.00)"/>
<path d="M0,-10 C0.7,-6.5 3.6,-2.2 3.6,2 A3.6,3.6 0 1 1 -3.6,2 C-3.6,-2.2 -0.7,-6.5 0,-10Z" fill="#0c0c0c" transform="translate(693.9,155.0) rotate(-6.1) scale(0.86,0.88)"/>
<path d="M0,-10 C0.7,-6.5 3.6,-2.2 3.6,2 A3.6,3.6 0 1 1 -3.6,2 C-3.6,-2.2 -0.7,-6.5 0,-10Z" fill="#0c0c0c" transform="translate(874.3,164.7) rotate(13.6) scale(1.12,1.00)"/>
<path d="M0,-10 C0.7,-6.5 3.6,-2.2 3.6,2 A3.6,3.6 0 1 1 -3.6,2 C-3.6,-2.2 -0.7,-6.5 0,-10Z" fill="#0c0c0c" transform="translate(886.1,24.2) rotate(1.8) scale(1.12,1.00)"/>
<path d="M0,-10 C0.7,-6.5 3.6,-2.2 3.6,2 A3.6,3.6 0 1 1 -3.6,2 C-3.6,-2.2 -0.7,-6.5 0,-10Z" fill="#0c0c0c" transform="translate(862.3,47.3) rotate(7.9) scale(1.12,1.00)"/>
<path d="M0,-10 C0.7,-6.5 3.6,-2.2 3.6,2 A3.6,3.6 0 1 1 -3.6,2 C-3.6,-2.2 -0.7,-6.5 0,-10Z" fill="#0c0c0c" transform="translate(820.1,197.6) rotate(19.7) scale(1.12,1.00)"/>
<path d="M0,-10 C0.7,-6.5 3.6,-2.2 3.6,2 A3.6,3.6 0 1 1 -3.6,2 C-3.6,-2.2 -0.7,-6.5 0,-10Z" fill="#0c0c0c" transform="translate(841.6,65.0) rotate(1.4) scale(1.12,1.00)"/>
<path d="M0,-10 C0.7,-6.5 3.6,-2.2 3.6,2 A3.6,3.6 0 1 1 -3.6,2 C-3.6,-2.2 -0.7,-6.5 0,-10Z" fill="#0c0c0c" transform="translate(780.1,207.4) rotate(9.1) scale(1.12,1.00)"/>
<path d="M0,-10 C0.7,-6.5 3.6,-2.2 3.6,2 A3.6,3.6 0 1 1 -3.6,2 C-3.6,-2.2 -0.7,-6.5 0,-10Z" fill="#0c0c0c" transform="translate(775.5,161.9) rotate(13.1) scale(1.12,1.00)"/>
<path d="M0,-10 C0.7,-6.5 3.6,-2.2 3.6,2 A3.6,3.6 0 1 1 -3.6,2 C-3.6,-2.2 -0.7,-6.5 0,-10Z" fill="#0c0c0c" transform="translate(757.4,20.7) rotate(-6.3) scale(0.80,0.60)"/>
<path d="M0,-10 C0.7,-6.5 3.6,-2.2 3.6,2 A3.6,3.6 0 1 1 -3.6,2 C-3.6,-2.2 -0.7,-6.5 0,-10Z" fill="#0c0c0c" transform="translate(756.4,75.5) rotate(-1.4) scale(1.12,1.00)"/>
<path d="M0,-10 C0.7,-6.5 3.6,-2.2 3.6,2 A3.6,3.6 0 1 1 -3.6,2 C-3.6,-2.2 -0.7,-6.5 0,-10Z" fill="#0c0c0c" transform="translate(701.1,155.0) rotate(6.1) scale(0.86,0.88)"/>
<!-- panel 2 -->
<g fill="none" stroke="#828282" stroke-width="2.9">
<path d="M487.6,329.5 C488.8,334.4 491.9,349.1 494.9,358.9 C497.9,368.7 501.5,378.5 505.5,388.3 C509.6,398.1 514.2,407.9 519.3,417.7 C524.4,427.5 530.0,437.3 536.0,447.1 C542.1,456.9 548.6,466.6 555.5,476.4 C562.5,486.2 569.8,496.0 577.6,505.8 C585.4,515.6 593.5,525.4 602.1,535.2 C610.6,545.0 619.5,554.8 628.7,564.6 C638.0,574.4 652.7,589.1 657.4,594.0"/>
<path d="M902.4,329.5 C901.2,334.4 898.1,349.1 895.1,358.9 C892.1,368.7 888.5,378.5 884.5,388.3 C880.4,398.1 875.8,407.9 870.7,417.7 C865.6,427.5 860.0,437.3 854.0,447.1 C847.9,456.9 841.4,466.6 834.5,476.4 C827.5,486.2 820.2,496.0 812.4,505.8 C804.6,515.6 796.5,525.4 787.9,535.2 C779.4,545.0 770.5,554.8 761.3,564.6 C752.0,574.4 737.3,589.1 732.6,594.0"/>
<path d="M496.8,329.5 C497.9,334.4 500.9,349.1 503.7,358.9 C506.4,368.7 509.7,378.5 513.5,388.3 C517.3,398.1 521.5,407.9 526.3,417.7 C531.0,427.5 536.2,437.3 541.9,447.1 C547.6,456.9 553.8,466.6 560.4,476.4 C567.1,486.2 574.2,496.0 581.8,505.8 C589.3,515.6 597.4,525.4 605.9,535.2 C614.4,545.0 623.3,554.8 632.7,564.6 C642.1,574.4 657.3,589.1 662.3,594.0"/>
<path d="M893.2,329.5 C892.1,334.4 889.1,349.1 886.3,358.9 C883.6,368.7 880.3,378.5 876.5,388.3 C872.7,398.1 868.5,407.9 863.7,417.7 C859.0,427.5 853.8,437.3 848.1,447.1 C842.4,456.9 836.2,466.6 829.6,476.4 C822.9,486.2 815.8,496.0 808.2,505.8 C800.7,515.6 792.6,525.4 784.1,535.2 C775.6,545.0 766.7,554.8 757.3,564.6 C747.9,574.4 732.7,589.1 727.7,594.0"/>
<path d="M506.1,329.5 C507.2,334.4 510.0,349.1 512.6,358.9 C515.1,368.7 518.1,378.5 521.6,388.3 C525.0,398.1 528.9,407.9 533.3,417.7 C537.7,427.5 542.5,437.3 547.8,447.1 C553.2,456.9 559.0,466.6 565.3,476.4 C571.6,486.2 578.5,496.0 585.8,505.8 C593.2,515.6 601.1,525.4 609.6,535.2 C618.0,545.0 627.0,554.8 636.6,564.6 C646.2,574.4 662.0,589.1 667.1,594.0"/>
<path d="M883.9,329.5 C882.8,334.4 880.0,349.1 877.4,358.9 C874.9,368.7 871.9,378.5 868.4,388.3 C865.0,398.1 861.1,407.9 856.7,417.7 C852.3,427.5 847.5,437.3 842.2,447.1 C836.8,456.9 831.0,466.6 824.7,476.4 C818.4,486.2 811.5,496.0 804.2,505.8 C796.8,515.6 788.9,525.4 780.4,535.2 C772.0,545.0 763.0,554.8 753.4,564.6 C743.8,574.4 728.0,589.1 722.9,594.0"/>
<path d="M522.2,329.5 C523.6,334.4 527.8,349.1 530.8,358.9 C533.8,368.7 536.7,378.5 540.0,388.3 C543.3,398.1 546.7,407.9 550.5,417.7 C554.3,427.5 558.3,437.3 562.8,447.1 C567.3,456.9 572.0,466.6 577.4,476.4 C582.8,486.2 588.6,496.0 595.1,505.8 C601.5,515.6 608.5,525.4 616.3,535.2 C624.0,545.0 632.4,554.8 641.6,564.6 C650.8,574.4 666.7,589.1 671.7,594.0"/>
<path d="M867.8,329.5 C866.4,334.4 862.2,349.1 859.2,358.9 C856.2,368.7 853.3,378.5 850.0,388.3 C846.7,398.1 843.3,407.9 839.5,417.7 C835.7,427.5 831.7,437.3 827.2,447.1 C822.7,456.9 818.0,466.6 812.6,476.4 C807.2,486.2 801.4,496.0 794.9,505.8 C788.5,515.6 781.5,525.4 773.7,535.2 C766.0,545.0 757.6,554.8 748.4,564.6 C739.2,574.4 723.3,589.1 718.3,594.0"/>
<path d="M547.2,329.5 C548.3,334.4 551.6,349.1 554.2,358.9 C556.7,368.7 559.3,378.5 562.3,388.3 C565.2,398.1 568.3,407.9 571.8,417.7 C575.2,427.5 578.9,437.3 583.0,447.1 C587.1,456.9 591.5,466.6 596.4,476.4 C601.2,486.2 606.4,496.0 612.0,505.8 C617.7,515.6 623.8,525.4 630.4,535.2 C637.0,545.0 644.1,554.8 651.7,564.6 C659.4,574.4 672.3,589.1 676.4,594.0"/>
<path d="M842.8,329.5 C841.7,334.4 838.4,349.1 835.8,358.9 C833.3,368.7 830.7,378.5 827.7,388.3 C824.8,398.1 821.7,407.9 818.2,417.7 C814.8,427.5 811.1,437.3 807.0,447.1 C802.9,456.9 798.5,466.6 793.6,476.4 C788.8,486.2 783.6,496.0 778.0,505.8 C772.3,515.6 766.2,525.4 759.6,535.2 C753.0,545.0 745.9,554.8 738.3,564.6 C730.6,574.4 717.7,589.1 713.6,594.0"/>
<path d="M578.9,329.5 C579.6,334.4 581.3,349.1 582.9,358.9 C584.5,368.7 586.3,378.5 588.4,388.3 C590.4,398.1 592.8,407.9 595.4,417.7 C598.0,427.5 600.9,437.3 604.2,447.1 C607.4,456.9 611.0,466.6 614.9,476.4 C618.8,486.2 623.1,496.0 627.7,505.8 C632.3,515.6 637.3,525.4 642.7,535.2 C648.2,545.0 654.0,554.8 660.2,564.6 C666.5,574.4 676.9,589.1 680.2,594.0"/>
<path d="M811.1,329.5 C810.4,334.4 808.7,349.1 807.1,358.9 C805.5,368.7 803.7,378.5 801.6,388.3 C799.6,398.1 797.2,407.9 794.6,417.7 C792.0,427.5 789.1,437.3 785.8,447.1 C782.6,456.9 779.0,466.6 775.1,476.4 C771.2,486.2 766.9,496.0 762.3,505.8 C757.7,515.6 752.7,525.4 747.3,535.2 C741.8,545.0 736.0,554.8 729.8,564.6 C723.5,574.4 713.1,589.1 709.8,594.0"/>
<path d="M594.8,329.5 C595.7,334.4 598.3,349.1 600.1,358.9 C602.0,368.7 603.9,378.5 606.0,388.3 C608.1,398.1 610.3,407.9 612.7,417.7 C615.1,427.5 617.6,437.3 620.4,447.1 C623.2,456.9 626.1,466.6 629.4,476.4 C632.6,486.2 636.1,496.0 639.9,505.8 C643.7,515.6 647.8,525.4 652.2,535.2 C656.7,545.0 661.4,554.8 666.6,564.6 C671.7,574.4 680.4,589.1 683.2,594.0"/>
<path d="M795.2,329.5 C794.3,334.4 791.7,349.1 789.9,358.9 C788.0,368.7 786.1,378.5 784.0,388.3 C781.9,398.1 779.7,407.9 777.3,417.7 C774.9,427.5 772.4,437.3 769.6,447.1 C766.8,456.9 763.9,466.6 760.6,476.4 C757.4,486.2 753.9,496.0 750.1,505.8 C746.3,515.6 742.2,525.4 737.8,535.2 C733.3,545.0 728.6,554.8 723.4,564.6 C718.3,574.4 709.6,589.1 706.8,594.0"/>
<path d="M626.4,329.5 C627.0,334.4 628.6,349.1 629.7,358.9 C630.9,368.7 631.9,378.5 633.1,388.3 C634.3,398.1 635.5,407.9 636.8,417.7 C638.2,427.5 639.6,437.3 641.3,447.1 C642.9,456.9 644.7,466.6 646.8,476.4 C648.8,486.2 651.1,496.0 653.7,505.8 C656.2,515.6 659.1,525.4 662.3,535.2 C665.5,545.0 669.0,554.8 673.0,564.6 C676.9,574.4 683.9,589.1 686.1,594.0"/>
<path d="M763.6,329.5 C763.0,334.4 761.4,349.1 760.3,358.9 C759.1,368.7 758.1,378.5 756.9,388.3 C755.7,398.1 754.5,407.9 753.2,417.7 C751.8,427.5 750.4,437.3 748.7,447.1 C747.1,456.9 745.3,466.6 743.2,476.4 C741.2,486.2 738.9,496.0 736.3,505.8 C733.8,515.6 730.9,525.4 727.7,535.2 C724.5,545.0 721.0,554.8 717.0,564.6 C713.1,574.4 706.1,589.1 703.9,594.0"/>
<path d="M639.4,329.5 C640.1,334.4 642.1,349.1 643.4,358.9 C644.7,368.7 645.9,378.5 647.2,388.3 C648.5,398.1 649.7,407.9 651.1,417.7 C652.4,427.5 653.8,437.3 655.2,447.1 C656.7,456.9 658.2,466.6 659.9,476.4 C661.6,486.2 663.3,496.0 665.3,505.8 C667.2,515.6 669.3,525.4 671.6,535.2 C673.9,545.0 676.4,554.8 679.1,564.6 C681.9,574.4 686.5,589.1 688.0,594.0"/>
<path d="M750.6,329.5 C749.9,334.4 747.9,349.1 746.6,358.9 C745.3,368.7 744.1,378.5 742.8,388.3 C741.5,398.1 740.3,407.9 738.9,417.7 C737.6,427.5 736.2,437.3 734.8,447.1 C733.3,456.9 731.8,466.6 730.1,476.4 C728.4,486.2 726.7,496.0 724.7,505.8 C722.8,515.6 720.7,525.4 718.4,535.2 C716.1,545.0 713.6,554.8 710.9,564.6 C708.1,574.4 703.5,589.1 702.0,594.0"/>
<path d="M672.5,329.5 C672.6,334.4 672.7,349.1 672.8,358.9 C673.0,368.7 673.2,378.5 673.5,388.3 C673.8,398.1 674.2,407.9 674.6,417.7 C675.0,427.5 675.5,437.3 676.0,447.1 C676.6,456.9 677.2,466.6 677.9,476.4 C678.6,486.2 679.4,496.0 680.2,505.8 C681.0,515.6 682.0,525.4 683.0,535.2 C684.0,545.0 685.0,554.8 686.2,564.6 C687.3,574.4 689.3,589.1 689.9,594.0"/>
<path d="M717.5,329.5 C717.4,334.4 717.3,349.1 717.2,358.9 C717.0,368.7 716.8,378.5 716.5,388.3 C716.2,398.1 715.8,407.9 715.4,417.7 C715.0,427.5 714.5,437.3 714.0,447.1 C713.4,456.9 712.8,466.6 712.1,476.4 C711.4,486.2 710.6,496.0 709.8,505.8 C709.0,515.6 708.0,525.4 707.0,535.2 C706.0,545.0 705.0,554.8 703.8,564.6 C702.7,574.4 700.7,589.1 700.1,594.0"/>
</g>
<!-- panel 3 -->
<clipPath id="h3c"><polygon points="671.3,665.0 706.0,665.0 709.4,856.0 676.2,856.0"/></clipPath>
<g clip-path="url(#h3c)">
<g transform="translate(0.00,0) skewX(0.000) translate(0.00,0)">
<rect x="669.3" y="663.0" width="38.7" height="195.0" fill="url(#h3g)" transform="translate(0.00,665.00) skewX(1.245) translate(0.00,-665.00)"/>
</g>
<polygon points="681.7,665.2 710.4,679.5 710.4,691.5 681.7,677.2" fill="#0f3788" opacity="0.82"/>
<polygon points="670.3,689.5 710.4,709.5 710.4,742.5 670.3,722.5" fill="#0f3788" opacity="0.82"/>
<polygon points="670.3,756.5 710.4,776.5 710.4,808.5 670.3,788.5" fill="#0f3788" opacity="0.82"/>
<polygon points="670.3,821.5 710.4,841.5 710.4,869.5 670.3,849.5" fill="#0f3788" opacity="0.82"/>
<polygon points="689.3,665.0 697.0,665.0 700.8,856.0 693.5,856.0" fill="#86defb" opacity="0.42"/>
<ellipse cx="689.0" cy="672.0" rx="4.9" ry="1.5" fill="#ffffff" transform="rotate(20 689.0 672.0)"/>
<ellipse cx="698.0" cy="675.5" rx="4.2" ry="1.6" fill="#bfeefc" transform="rotate(20 698.0 675.5)"/>
<ellipse cx="683.3" cy="675.0" rx="3.5" ry="1.7" fill="#bfeefc" transform="rotate(20 683.3 675.0)"/>
<ellipse cx="691.9" cy="681.0" rx="4.9" ry="1.6" fill="#ffffff" transform="rotate(20 691.9 681.0)"/>
<ellipse cx="700.8" cy="683.0" rx="4.2" ry="1.2" fill="#ffffff" transform="rotate(20 700.8 683.0)"/>
<ellipse cx="671.1" cy="693.2" rx="4.1" ry="1.5" fill="#bfeefc" transform="rotate(20 671.1 693.2)"/>
<ellipse cx="680.5" cy="699.0" rx="4.2" ry="1.6" fill="#ffffff" transform="rotate(20 680.5 699.0)"/>
<ellipse cx="688.6" cy="704.2" rx="5.0" ry="1.7" fill="#bfeefc" transform="rotate(20 688.6 704.2)"/>
<ellipse cx="697.3" cy="706.7" rx="3.9" ry="1.2" fill="#bfeefc" transform="rotate(20 697.3 706.7)"/>
<ellipse cx="675.4" cy="705.4" rx="4.0" ry="1.8" fill="#bfeefc" transform="rotate(20 675.4 705.4)"/>
<ellipse cx="683.1" cy="708.2" rx="4.9" ry="1.5" fill="#bfeefc" transform="rotate(20 683.1 708.2)"/>
<ellipse cx="692.7" cy="712.2" rx="4.4" ry="1.7" fill="#ffffff" transform="rotate(20 692.7 712.2)"/>
<ellipse cx="700.7" cy="717.2" rx="4.9" ry="1.7" fill="#ffffff" transform="rotate(20 700.7 717.2)"/>
<ellipse cx="671.1" cy="709.9" rx="3.5" ry="1.7" fill="#ffffff" transform="rotate(20 671.1 709.9)"/>
<ellipse cx="680.6" cy="715.1" rx="3.7" ry="1.6" fill="#ffffff" transform="rotate(20 680.6 715.1)"/>
<ellipse cx="689.4" cy="718.6" rx="4.1" ry="1.3" fill="#ffffff" transform="rotate(20 689.4 718.6)"/>
<ellipse cx="698.9" cy="724.6" rx="3.9" ry="1.7" fill="#ffffff" transform="rotate(20 698.9 724.6)"/>
<ellipse cx="675.4" cy="721.9" rx="4.4" ry="1.3" fill="#bfeefc" transform="rotate(20 675.4 721.9)"/>
<ellipse cx="683.6" cy="724.8" rx="4.6" ry="1.4" fill="#ffffff" transform="rotate(20 683.6 724.8)"/>
<ellipse cx="692.0" cy="728.7" rx="4.3" ry="1.3" fill="#ffffff" transform="rotate(20 692.0 728.7)"/>
<ellipse cx="701.4" cy="733.9" rx="4.9" ry="1.5" fill="#ffffff" transform="rotate(20 701.4 733.9)"/>
<ellipse cx="672.6" cy="760.5" rx="3.6" ry="1.7" fill="#bfeefc" transform="rotate(20 672.6 760.5)"/>
<ellipse cx="679.8" cy="764.8" rx="4.6" ry="1.8" fill="#ffffff" transform="rotate(20 679.8 764.8)"/>
<ellipse cx="690.2" cy="770.8" rx="4.4" ry="1.5" fill="#ffffff" transform="rotate(20 690.2 770.8)"/>
<ellipse cx="696.7" cy="775.3" rx="3.8" ry="1.6" fill="#ffffff" transform="rotate(20 696.7 775.3)"/>
<ellipse cx="676.4" cy="771.4" rx="3.9" ry="1.3" fill="#bfeefc" transform="rotate(20 676.4 771.4)"/>
<ellipse cx="683.3" cy="774.9" rx="4.3" ry="1.7" fill="#ffffff" transform="rotate(20 683.3 774.9)"/>
<ellipse cx="692.5" cy="780.8" rx="3.7" ry="1.2" fill="#ffffff" transform="rotate(20 692.5 780.8)"/>
<ellipse cx="701.5" cy="783.1" rx="3.7" ry="1.4" fill="#ffffff" transform="rotate(20 701.5 783.1)"/>
<ellipse cx="670.8" cy="776.9" rx="4.8" ry="1.8" fill="#bfeefc" transform="rotate(20 670.8 776.9)"/>
<ellipse cx="680.9" cy="781.8" rx="3.6" ry="1.2" fill="#ffffff" transform="rotate(20 680.9 781.8)"/>
<ellipse cx="690.1" cy="786.4" rx="4.9" ry="1.2" fill="#ffffff" transform="rotate(20 690.1 786.4)"/>
<ellipse cx="697.7" cy="790.8" rx="3.9" ry="1.8" fill="#ffffff" transform="rotate(20 697.7 790.8)"/>
<ellipse cx="675.7" cy="787.7" rx="4.8" ry="1.6" fill="#bfeefc" transform="rotate(20 675.7 787.7)"/>
<ellipse cx="685.0" cy="792.5" rx="4.0" ry="1.6" fill="#bfeefc" transform="rotate(20 685.0 792.5)"/>
<ellipse cx="693.9" cy="795.6" rx="4.7" ry="1.7" fill="#ffffff" transform="rotate(20 693.9 795.6)"/>
<ellipse cx="702.0" cy="799.9" rx="4.3" ry="1.6" fill="#ffffff" transform="rotate(20 702.0 799.9)"/>
<ellipse cx="672.1" cy="826.9" rx="4.8" ry="1.6" fill="#ffffff" transform="rotate(20 672.1 826.9)"/>
<ellipse cx="681.0" cy="830.2" rx="4.1" ry="1.7" fill="#ffffff" transform="rotate(20 681.0 830.2)"/>
<ellipse cx="689.7" cy="833.3" rx="4.4" ry="1.5" fill="#ffffff" transform="rotate(20 689.7 833.3)"/>
<ellipse cx="698.2" cy="838.7" rx="4.4" ry="1.8" fill="#ffffff" transform="rotate(20 698.2 838.7)"/>
<ellipse cx="674.5" cy="834.2" rx="4.5" ry="1.3" fill="#ffffff" transform="rotate(20 674.5 834.2)"/>
<ellipse cx="685.3" cy="839.4" rx="4.1" ry="1.7" fill="#ffffff" transform="rotate(20 685.3 839.4)"/>
<ellipse cx="693.4" cy="842.6" rx="4.1" ry="1.7" fill="#bfeefc" transform="rotate(20 693.4 842.6)"/>
<ellipse cx="702.6" cy="847.4" rx="4.3" ry="1.4" fill="#ffffff" transform="rotate(20 702.6 847.4)"/>
<ellipse cx="671.7" cy="840.5" rx="4.8" ry="1.6" fill="#bfeefc" transform="rotate(20 671.7 840.5)"/>
<ellipse cx="679.9" cy="843.3" rx="4.1" ry="1.4" fill="#ffffff" transform="rotate(20 679.9 843.3)"/>
<ellipse cx="688.9" cy="848.7" rx="4.2" ry="1.4" fill="#bfeefc" transform="rotate(20 688.9 848.7)"/>
<ellipse cx="698.9" cy="852.6" rx="3.5" ry="1.2" fill="#bfeefc" transform="rotate(20 698.9 852.6)"/>
<ellipse cx="674.5" cy="849.2" rx="4.3" ry="1.4" fill="#bfeefc" transform="rotate(20 674.5 849.2)"/>
<ellipse cx="683.2" cy="852.1" rx="4.1" ry="1.2" fill="#bfeefc" transform="rotate(20 683.2 852.1)"/>
<ellipse cx="692.4" cy="856.5" rx="3.5" ry="1.6" fill="#ffffff" transform="rotate(20 692.4 856.5)"/>
<ellipse cx="702.0" cy="862.1" rx="4.7" ry="1.8" fill="#bfeefc" transform="rotate(20 702.0 862.1)"/>

</g>
<path d="M661.5,666.3 L671.5,666.3 L672,669.5 Z" fill="#1c2a3a"/><path d="M705.3,666.3 L713,666.3 L705.8,669.5 Z" fill="#1c2a3a"/>
<ellipse cx="692.5" cy="885.7" rx="34.6" ry="34.2" fill="url(#ballgf)"/>
<clipPath id="b3clip"><ellipse cx="692.5" cy="885.7" rx="34.6" ry="34.2"/></clipPath>
<g fill="none" filter="url(#b1)" clip-path="url(#b3clip)">
<ellipse cx="695.0" cy="880.2" rx="8.9" ry="8.8" stroke="#b8913c" stroke-opacity="0.42" stroke-width="1.5"/>
<ellipse cx="695.0" cy="880.2" rx="7.2" ry="7.1" stroke="#f6df97" stroke-opacity="0.55" stroke-width="1.6"/>
<ellipse cx="694.0" cy="881.2" rx="15.9" ry="15.7" stroke="#b8913c" stroke-opacity="0.42" stroke-width="1.5"/>
<ellipse cx="694.0" cy="881.2" rx="14.2" ry="14.0" stroke="#f6df97" stroke-opacity="0.55" stroke-width="1.6"/>
<ellipse cx="693.0" cy="882.7" rx="22.9" ry="22.6" stroke="#b8913c" stroke-opacity="0.42" stroke-width="1.5"/>
<ellipse cx="693.0" cy="882.7" rx="21.2" ry="21.0" stroke="#f6df97" stroke-opacity="0.55" stroke-width="1.6"/>
<ellipse cx="691.0" cy="884.7" rx="29.5" ry="29.1" stroke="#b8913c" stroke-opacity="0.42" stroke-width="1.5"/>
<ellipse cx="691.0" cy="884.7" rx="27.8" ry="27.4" stroke="#f6df97" stroke-opacity="0.55" stroke-width="1.6"/>
</g>
<ellipse cx="695.5" cy="880.7" rx="6.5" ry="8" fill="#ffe6a0" opacity="0.6" filter="url(#b2)"/>
<ellipse cx="680.5" cy="893.7" rx="4.5" ry="2.2" fill="#fff0c0" opacity="0.55" filter="url(#b1)" transform="rotate(40 680.5 893.7)"/>
<rect x="446" y="6.0" width="492" height="267.3" fill="none" stroke="#44708f" stroke-width="2.6"/>
<rect x="446" y="328.3" width="492" height="267.4" fill="none" stroke="#44708f" stroke-width="2.6"/>
<rect x="446" y="663.7" width="492" height="267.8" fill="none" stroke="#44708f" stroke-width="2.6"/>

<text transform="translate(453.82,309.6) scale(1.0420,1)" font-size="26.5">Smooth</text>
<text transform="translate(555.78,309.6) scale(0.9615,1)" font-size="26.5">massage</text>
<text transform="translate(668.42,309.6) scale(0.9909,1)" font-size="26.5">ball,</text>
<text transform="translate(722.55,309.6) scale(1.0743,1)" font-size="26.5">not</text>
<text transform="translate(770.73,309.6) scale(1.0860,1)" font-size="26.5">hurt</text>
<text transform="translate(828.80,309.6) scale(0.9944,1)" font-size="26.5">the</text>
<text transform="translate(873.84,309.6) scale(0.9567,1)" font-size="26.5">scalp</text>
<text transform="translate(530.02,634.7) scale(1.0407,1)" font-size="26.5">Distributed</text>
<text transform="translate(669.73,634.7) scale(0.9747,1)" font-size="26.5">evenly</text>
<text transform="translate(752.98,634.7) scale(0.9606,1)" font-size="26.5">massage</text>
<text transform="translate(524.20,963.6) scale(0.9500,1)" font-size="26.5">Dazzle</text>
<text transform="translate(608.66,963.6) scale(1.0352,1)" font-size="26.5">colour</text>
<text transform="translate(691.01,963.6) scale(1.0456,1)" font-size="26.5">non-slip</text>
<text transform="translate(797.59,963.6) scale(1.0066,1)" font-size="26.5">handle</text>
</svg>
</body></html>
